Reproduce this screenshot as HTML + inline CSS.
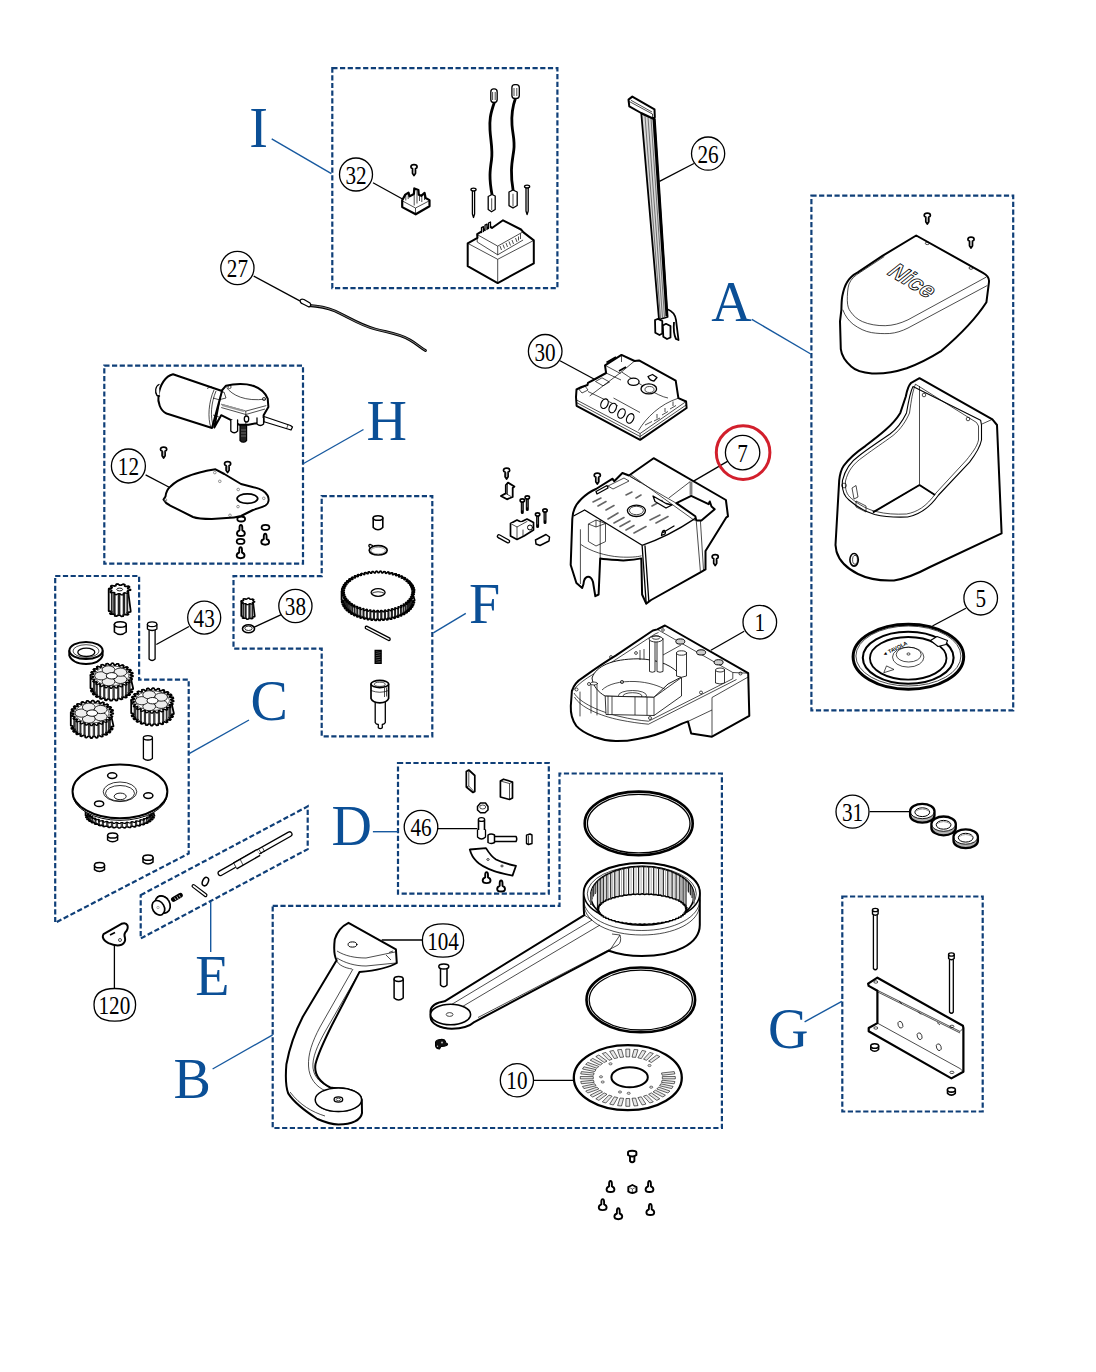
<!DOCTYPE html>
<html><head><meta charset="utf-8"><title>Parts diagram</title>
<style>
html,body{margin:0;padding:0;background:#fff;}
svg{display:block;}
.bx{fill:none;stroke:#0f3f78;stroke-width:2.2;stroke-dasharray:5.2 2.5;}
.ld{stroke:#17599f;stroke-width:1.4;fill:none;}
.L{font-family:"Liberation Serif",serif;font-size:56px;fill:#0b4f96;text-anchor:middle;}
.c{fill:#fff;stroke:#000;stroke-width:1.3;}
.n{font-family:"Liberation Serif",serif;font-size:25.5px;fill:#000;text-anchor:middle;transform-box:fill-box;transform-origin:center;transform:scaleX(0.83);}
.k{stroke:#000;stroke-width:1.3;fill:none;}
.p{fill:#fff;stroke:#000;stroke-width:2;stroke-linejoin:round;stroke-linecap:round;}
.q{fill:#fff;stroke:#000;stroke-width:1.3;stroke-linejoin:round;stroke-linecap:round;}
.t{fill:none;stroke:#000;stroke-width:0.7;}
.g{fill:none;stroke:#666;stroke-width:0.7;}
</style></head><body>
<svg width="1096" height="1372" viewBox="0 0 1096 1372">
<defs>
<path id="scr" d="M-3.1 1.9Q-3.1 -0.4 0 -0.4Q3.1 -0.4 3.1 1.9Q3.1 3.2 1.5 3.6V8.2L0 10.6L-1.5 8.2V3.6Q-3.1 3.2 -3.1 1.9Z"/>
<path id="scrl" d="M-1.4 4.2L0 1.4"/>
</defs>
<rect width="1096" height="1372" fill="#fff"/>
<g id="boxes">
<rect class="bx" x="332.3" y="68.2" width="225.1" height="219.9"/>
<rect class="bx" x="811.4" y="195.7" width="201.8" height="514.7"/>
<rect class="bx" x="104.3" y="365.7" width="198.7" height="197.9"/>
<path class="bx" d="M321.7 496.1H432.3V736.3H321.7V648.6H233.5V576.1H321.7Z"/>
<path class="bx" d="M55.2 576H139.1V679.6H188.7V853.5L55.2 922.8Z"/>
<path class="bx" d="M140.7 895.1L307.7 806.4V849.1L140.7 938.5Z"/>
<rect class="bx" x="398" y="763" width="150.8" height="130.7"/>
<path class="bx" d="M272.7 905.8H559.5V773.5H721.9V1128H272.7Z"/>
<rect class="bx" x="842.3" y="896.5" width="140.4" height="215"/>
</g>
<g id="letters">
<path class="ld" d="M271.7 138.9L331.4 173.6"/>
<path class="ld" d="M751.8 319.4L810.8 354"/>
<path class="ld" d="M303.6 463.5L363.5 429.5"/>
<path class="ld" d="M433.3 632.8L465.8 613.4"/>
<path class="ld" d="M188.7 753.9L249 720"/>
<path class="ld" d="M372.9 831.7H398"/>
<path class="ld" d="M210.7 901.7V952"/>
<path class="ld" d="M212.6 1069L272.7 1034.8"/>
<path class="ld" d="M804.6 1021.8L841.8 1001.4"/>
<text class="L" x="258.5" y="147">I</text>
<text class="L" x="731.6" y="321">A</text>
<text class="L" x="386.8" y="440">H</text>
<text class="L" x="484.5" y="623">F</text>
<text class="L" x="269.3" y="720">C</text>
<text class="L" x="351.7" y="845">D</text>
<text class="L" x="212.4" y="995">E</text>
<text class="L" x="192.3" y="1097.5">B</text>
<text class="L" x="788.3" y="1047.5">G</text>
</g>
<g id="leaders">
<path class="k" d="M373 182.7L403.4 199.5"/>
<path class="k" d="M253.7 276.1L299.8 300.9"/>
<path class="k" d="M693.9 163.5L659.5 181.3"/>
<path class="k" d="M560 360.8L594.4 379.3"/>
<path class="k" d="M727.9 461.1L693.6 481.1"/>
<path class="k" d="M145.6 474.9L169.7 487.5"/>
<path class="k" d="M189 626.5L156.3 644.5"/>
<path class="k" d="M281.3 614.6L253.2 627.7"/>
<path class="k" d="M744.2 631.2L710.9 650.2"/>
<path class="k" d="M965.9 608.2L932.4 626"/>
<path class="k" d="M869.6 811.7H910"/>
<path class="k" d="M437.9 828.7H477.4"/>
<path class="k" d="M422.4 940H381.7"/>
<path class="k" d="M114.4 944.4V988"/>
<path class="k" d="M533.7 1080.3H573.2"/>
</g>
<g id="parts">
<!-- ===== Box I ===== -->
<g id="partsI">
<!-- screw -->
<use href="#scr" x="414" y="165" fill="#fff" stroke="#000" stroke-width="1.7" stroke-linejoin="round"/><path d="M414 169.2V173" stroke="#888" stroke-width="0.8"/>
<!-- terminal block 32 -->
<path class="p" d="M402.2 200.3L405.3 194.6L408.5 192.6L409.6 196.4L413.9 194L414.3 188.4L418.4 190.1L418.8 194.8L421.3 195.8L424.6 192.9L425.6 198L429.5 200.1V206.3L415.7 214.3L402.2 207.1Z" style="stroke-width:2.2"/>
<path class="t" d="M402.5 201L415.5 208L429.3 200.8M415.5 208V214M405.8 195.2V200.5M408.2 194V199M414.2 194.6V205.5M417 191V203.5M419.5 196V201M421.8 196.5V202M424.5 194.5V200"/>
<!-- cables -->
<path d="M494.3 102.5C490 115 489.5 120 490 130S493 150 491.5 160S488.8 178 492.1 195" fill="none" stroke="#000" stroke-width="2.8"/>
<path d="M515.4 98.5C512 108 511.3 115 512 125S515 140 513.8 150S509.5 170 513.2 191" fill="none" stroke="#000" stroke-width="2.8"/>
<rect class="q" x="490.8" y="88.9" width="6.4" height="13.6" rx="3"/>
<path class="t" d="M492.6 92V100M495.2 92V100"/>
<rect class="q" x="511.9" y="84.6" width="7.4" height="13.8" rx="3"/>
<path class="t" d="M514 88V96M516.8 88V96"/>
<path class="q" d="M488.2 196.5L492 194.5L495.2 196V209.5L491.5 211.8L488.2 209.5Z"/>
<path class="t" d="M491.7 198.3V210"/>
<path class="q" d="M509 192L513 190L517.2 192V205.5L513 208L509 205.6Z"/>
<path class="t" d="M513 193.8V206.5"/>
<!-- pins -->
<path class="q" d="M472.4 190.5V214L473.5 217.5L474.6 214V190.5"/>
<ellipse class="q" cx="473.5" cy="189.6" rx="2.6" ry="1.4"/>
<path class="q" d="M526 187.5V211L527.1 214.6L528.2 211V187.5"/>
<ellipse class="q" cx="527.1" cy="186.6" rx="2.6" ry="1.4"/>
<!-- transformer -->
<path class="p" d="M467.7 243.3L477.5 237.8L477.2 234.2L490 226.4L492 228L503 220.3L521 229.5L523.5 232.4L533.8 240.4V263.4L497.7 283.1L467.7 266.2Z"/>
<path class="t" d="M467.7 243.3L497.7 259.3L533.8 240.4M497.7 259.3V283.1M477.2 234.6L497.7 246.1L523.1 231.8M477.2 234.6V242L497.7 254.8L523.1 240M497.7 246.1V255"/>
<path class="t" d="M500 246L501.5 250M503 244.6L504.5 248.5M506 243L507.5 247M509 241.5L510.5 245.5M512 240L513.5 244M515.5 238L517 242M518.5 236.5V240.5M520.5 233.5V239"/>
<path class="q" d="M481.5 232.5V227.6L483.4 226.6V231.5M485 230.5V225.2L487 224.2V229.5M488.5 228.5V223L490.5 222V227.5"/>
</g>
<!-- ===== Box H ===== -->
<g id="partsH">
<!-- wire -->
<path class="q" d="M261 415.5L290.5 425.5L292.5 427L291 430L260 420.5"/>
<path class="t" d="M288 424.5L286.5 429"/>
<!-- shaft -->
<path d="M240 424V440.5Q243.3 444 246.6 440.5V424Z" fill="#222" stroke="#000" stroke-width="1.2"/>
<path class="t" d="M241 430H246M241 433H246M241 436H246" style="stroke:#888"/>
<!-- gearbox -->
<path class="p" d="M221 391.5L226 385.7C235 383.5 246 383.5 252 385.5C259 387.5 265 392 267.7 398.7L268.4 407L263.6 415.2V422L248.5 424.7H239L232.1 420.6L221.2 415.2L214.3 427.5Z"/>
<path class="t" d="M221.2 404.2L245.8 411.1L266.3 405.6M221.2 407.5L245.8 414.5L265 409M245.8 411.1V424.5M226.5 387.5C232 395 245 402 266 399M216 393L224 392L226 398L218 400Z"/>
<path d="M222 405L244 411" stroke="#999" stroke-width="2"/>
<circle class="t" cx="229.5" cy="387" r="1.6"/>
<circle class="t" cx="264" cy="399" r="1.6"/>
<ellipse class="q" cx="246.5" cy="419" rx="2.2" ry="3"/>
<path class="q" d="M230.8 420V431Q234.2 434.5 237.6 431V420"/>
<path class="q" d="M257 418V424Q260.3 427 263.6 424V418"/>
<!-- motor cylinder -->
<path class="p" d="M173 374.2L222 391L212 428L166.5 413.5C160 410.5 157.5 402 158.5 395C160 384.5 165.5 376 173 374.2Z"/>
<path class="t" d="M214 390C208.5 402 207.5 418 211 428M216 391C211 403 210 417 213.5 426.5M207 388.5L211 386.5L214 389"/>
<path class="t" d="M213 398L220 400M213 415L219 417"/>
<path class="q" d="M159 384.5C155.5 386 154.5 392 157 395.5L159.5 396"/>
<!-- screws -->
<g class="q">
<use href="#scr" x="163.6" y="447.5" fill="#fff" stroke="#000" stroke-width="1.7" stroke-linejoin="round"/><path d="M163.6 451.7V455.5" stroke="#888" stroke-width="0.8"/>
<use href="#scr" x="227.6" y="462" fill="#fff" stroke="#000" stroke-width="1.7" stroke-linejoin="round"/><path d="M227.6 466.2V470" stroke="#888" stroke-width="0.8"/>
<ellipse cx="241.2" cy="519" rx="3.9" ry="2.5" style="stroke-width:1.8"/>
<ellipse cx="240.6" cy="541.4" rx="3.9" ry="2.5" style="stroke-width:1.8"/>
<ellipse cx="265.5" cy="527.4" rx="3.9" ry="2.5" style="stroke-width:1.8"/>
</g>
<g fill="#fff" stroke="#000" stroke-width="1.9" stroke-linejoin="round"><use href="#ps" transform="translate(-369.6 -656)"/><use href="#ps" transform="translate(-369.9 -633.8)"/><use href="#ps" transform="translate(-345.3 -647.3)"/>
</g>
<!-- gasket 12 -->
<path class="p" d="M165.5 496.5C166 492 168 488.5 170.5 486.5C174 483 180 479 188.6 476C195 473.5 202 472 208 470.5L215.5 469.3L224.3 474L241 484L253.5 487.2C260 488.5 265 491 267.6 495.5C269.5 499.5 268.5 503.5 265.5 505.5C261 508 256 508.5 252 510.5L241 516C236 517.5 231 518 226.4 518L211.7 519C203 519 197 518.5 193 517L182.3 511.6L169.7 505.3C166.5 504 164.3 501 163.5 499.5Z"/>
<ellipse class="p" cx="247.4" cy="498.6" rx="10.3" ry="4.8" style="stroke-width:1.8"/>
<g class="g"><circle cx="165.5" cy="500" r="1.3"/><circle cx="214.8" cy="472.6" r="1.3"/><circle cx="219.8" cy="481.3" r="1.3"/><circle cx="238.2" cy="489.5" r="1.3"/><circle cx="263.8" cy="498.3" r="1.3"/><circle cx="238" cy="506.6" r="1.3"/><circle cx="230" cy="515.3" r="1.3"/></g>
</g>
<!-- ===== Box C ===== -->
<g id="partsC">
<!-- bushing -->
<path class="p" d="M114.4 624.5V632Q120.3 637 126.2 632V624.5" style="stroke-width:1.6"/>
<ellipse class="p" cx="120.3" cy="624.5" rx="5.9" ry="2.8" style="stroke-width:1.6"/>
<!-- seal -->
<path class="p" d="M69.3 651V655.5Q72 663.5 86 664Q100 663.5 102.6 655.5V651"/>
<ellipse class="p" cx="86" cy="650.5" rx="16.6" ry="8.6"/>
<ellipse class="t" cx="86" cy="651" rx="13" ry="6.3"/>
<ellipse class="q" cx="86.3" cy="652.3" rx="8.5" ry="4.2"/>
<!-- pin 43 -->
<path class="q" d="M149.1 626V659Q152.1 662 155.1 659V626"/>
<path class="q" d="M147.4 624.5V629Q152.1 632 156.9 629V624.5"/>
<ellipse class="q" cx="152.1" cy="624.3" rx="4.7" ry="2.4"/>
<!-- pin lower -->
<path class="q" d="M143.4 738V758.5Q147.9 762 152.4 758.5V738"/>
<ellipse class="q" cx="147.9" cy="737.8" rx="4.5" ry="2.2"/>
<!--GEN:gearsC-->
<path d="M130.7 611 L130.6 611.9 L127.5 612.3 L127.1 612.9 L128.6 614.2 L127.5 614.9 L124.5 614.3 L123.4 614.7 L123.1 616.2 L121.4 616.4 L119.7 615.1 L118.4 615.1 L116.3 616.2 L114.7 615.9 L114.9 614.3 L113.9 613.9 L110.8 614.2 L109.9 613.5 L111.9 612.3 L111.6 611.6 L108.7 611 L108.7 589.5 L108.8 588.6 L111.9 588.2 L112.3 587.6 L110.8 586.3 L111.9 585.6 L114.9 586.2 L116 585.8 L116.3 584.3 L118 584.1 L119.7 585.4 L121 585.4 L123.1 584.3 L124.7 584.6 L124.5 586.2 L125.5 586.6 L128.6 586.3 L129.5 587 L127.5 588.2 L127.8 588.9Z" fill="#fff" stroke="#000" stroke-width="1.8" stroke-linejoin="round"/>
<path d="M127.5 590.8V612.3M127.1 591.4V612.9M124.5 592.8V614.3M123.4 593.2V614.7M119.7 593.6V615.1M118.4 593.6V615.1M114.9 592.8V614.3M113.9 592.4V613.9M111.9 590.8V612.3M111.6 590.1V611.6" fill="none" stroke="#222" stroke-width="1.4"/>
<path d="M130.7 589.5 L130.6 590.4 L127.5 590.8 L127.1 591.4 L128.6 592.7 L127.5 593.4 L124.5 592.8 L123.4 593.2 L123.1 594.7 L121.4 594.9 L119.7 593.6 L118.4 593.6 L116.3 594.7 L114.7 594.4 L114.9 592.8 L113.9 592.4 L110.8 592.7 L109.9 592 L111.9 590.8 L111.6 590.1 L108.7 589.5 L108.8 588.6 L111.9 588.2 L112.3 587.6 L110.8 586.3 L111.9 585.6 L114.9 586.2 L116 585.8 L116.3 584.3 L118 584.1 L119.7 585.4 L121 585.4 L123.1 584.3 L124.7 584.6 L124.5 586.2 L125.5 586.6 L128.6 586.3 L129.5 587 L127.5 588.2 L127.8 588.9Z" fill="#fff" stroke="#000" stroke-width="1.4" stroke-linejoin="round"/>
<ellipse cx="119.7" cy="589.5" rx="2.9" ry="1.4" fill="#fff" stroke="#000" stroke-width="0.9"/>
<path d="M133.1 688.3 L133.1 689.1 L130 689.7 L129.8 690.4 L132.4 691.5 L132 692.3 L128.7 692.4 L128.2 693 L130.2 694.5 L129.5 695.2 L126.3 694.8 L125.6 695.3 L126.9 697.1 L125.8 697.6 L123 696.8 L122 697.2 L122.5 699 L121.2 699.4 L118.8 698.2 L117.7 698.4 L117.3 700.3 L116 700.5 L114.2 698.9 L113 698.9 L111.8 700.7 L110.4 700.7 L109.4 698.9 L108.2 698.8 L106.3 700.3 L105 700 L104.8 698.2 L103.7 697.9 L101.2 699 L100 698.6 L100.6 696.8 L99.7 696.3 L96.7 697.1 L95.8 696.5 L97.3 694.8 L96.6 694.2 L93.4 694.5 L92.7 693.8 L94.9 692.4 L94.5 691.7 L91.2 691.5 L90.9 690.7 L93.6 689.7 L93.5 689 L90.5 688.3 L90.5 675.8 L90.5 675 L93.6 674.4 L93.8 673.7 L91.2 672.6 L91.6 671.8 L94.9 671.7 L95.4 671.1 L93.4 669.6 L94.1 668.9 L97.3 669.3 L98 668.8 L96.7 667 L97.8 666.5 L100.6 667.3 L101.6 666.9 L101.1 665.1 L102.4 664.7 L104.8 665.9 L105.9 665.7 L106.3 663.8 L107.6 663.6 L109.4 665.2 L110.6 665.2 L111.8 663.4 L113.2 663.4 L114.2 665.2 L115.4 665.3 L117.3 663.8 L118.6 664.1 L118.8 665.9 L119.9 666.2 L122.5 665.1 L123.6 665.5 L123 667.3 L123.9 667.8 L126.9 667 L127.8 667.6 L126.3 669.3 L127 669.9 L130.2 669.6 L130.9 670.3 L128.7 671.7 L129.1 672.4 L132.4 672.6 L132.7 673.4 L130 674.4 L130.1 675.1Z" fill="#fff" stroke="#000" stroke-width="1.8" stroke-linejoin="round"/>
<path d="M130 677.2V689.7M129.8 677.9V690.4M128.7 679.9V692.4M128.2 680.5V693M126.3 682.3V694.8M125.6 682.8V695.3M123 684.3V696.8M122 684.7V697.2M118.8 685.7V698.2M117.7 685.9V698.4M114.2 686.4V698.9M113 686.4V698.9M109.4 686.4V698.9M108.2 686.3V698.8M104.8 685.7V698.2M103.7 685.4V697.9M100.6 684.3V696.8M99.7 683.8V696.3M97.3 682.3V694.8M96.6 681.7V694.2M94.9 679.9V692.4M94.5 679.2V691.7M93.6 677.2V689.7M93.5 676.5V689" fill="none" stroke="#333" stroke-width="1.1"/>
<path d="M133.1 675.8 L133.1 676.6 L130 677.2 L129.8 677.9 L132.4 679 L132 679.8 L128.7 679.9 L128.2 680.5 L130.2 682 L129.5 682.7 L126.3 682.3 L125.6 682.8 L126.9 684.6 L125.8 685.1 L123 684.3 L122 684.7 L122.5 686.5 L121.2 686.9 L118.8 685.7 L117.7 685.9 L117.3 687.8 L116 688 L114.2 686.4 L113 686.4 L111.8 688.2 L110.4 688.2 L109.4 686.4 L108.2 686.3 L106.3 687.8 L105 687.5 L104.8 685.7 L103.7 685.4 L101.2 686.5 L100 686.1 L100.6 684.3 L99.7 683.8 L96.7 684.6 L95.8 684 L97.3 682.3 L96.6 681.7 L93.4 682 L92.7 681.3 L94.9 679.9 L94.5 679.2 L91.2 679 L90.9 678.2 L93.6 677.2 L93.5 676.5 L90.5 675.8 L90.5 675 L93.6 674.4 L93.8 673.7 L91.2 672.6 L91.6 671.8 L94.9 671.7 L95.4 671.1 L93.4 669.6 L94.1 668.9 L97.3 669.3 L98 668.8 L96.7 667 L97.8 666.5 L100.6 667.3 L101.6 666.9 L101.1 665.1 L102.4 664.7 L104.8 665.9 L105.9 665.7 L106.3 663.8 L107.6 663.6 L109.4 665.2 L110.6 665.2 L111.8 663.4 L113.2 663.4 L114.2 665.2 L115.4 665.3 L117.3 663.8 L118.6 664.1 L118.8 665.9 L119.9 666.2 L122.5 665.1 L123.6 665.5 L123 667.3 L123.9 667.8 L126.9 667 L127.8 667.6 L126.3 669.3 L127 669.9 L130.2 669.6 L130.9 670.3 L128.7 671.7 L129.1 672.4 L132.4 672.6 L132.7 673.4 L130 674.4 L130.1 675.1Z" fill="#fff" stroke="#000" stroke-width="1.4" stroke-linejoin="round"/>
<ellipse cx="111.8" cy="675.8" rx="17" ry="9.9" fill="none" stroke="#000" stroke-width="0.6"/>
<ellipse cx="120.4" cy="679.4" rx="6.4" ry="4.1" fill="#eee" stroke="#000" stroke-width="0.8"/>
<ellipse cx="108.5" cy="681.7" rx="6.4" ry="4.1" fill="#eee" stroke="#000" stroke-width="0.8"/>
<ellipse cx="101.1" cy="675.8" rx="6.4" ry="4.1" fill="#eee" stroke="#000" stroke-width="0.8"/>
<ellipse cx="108.5" cy="669.9" rx="6.4" ry="4.1" fill="#eee" stroke="#000" stroke-width="0.8"/>
<ellipse cx="120.4" cy="672.2" rx="6.4" ry="4.1" fill="#eee" stroke="#000" stroke-width="0.8"/>
<ellipse cx="111.8" cy="675.8" rx="5.5" ry="3.2" fill="#fff" stroke="#000" stroke-width="0.9"/>
<path d="M173.8 713.2 L173.8 714 L170.7 714.6 L170.5 715.3 L173.1 716.4 L172.7 717.2 L169.4 717.3 L168.9 717.9 L170.9 719.4 L170.2 720.1 L167 719.7 L166.3 720.2 L167.6 722 L166.5 722.5 L163.7 721.7 L162.7 722.1 L163.2 723.9 L161.9 724.3 L159.5 723.1 L158.4 723.3 L158 725.2 L156.7 725.4 L154.9 723.8 L153.7 723.8 L152.5 725.6 L151.1 725.6 L150.1 723.8 L148.9 723.7 L147 725.2 L145.7 724.9 L145.5 723.1 L144.4 722.8 L141.8 723.9 L140.7 723.5 L141.3 721.7 L140.4 721.2 L137.4 722 L136.5 721.4 L138 719.7 L137.3 719.1 L134.1 719.4 L133.4 718.7 L135.6 717.3 L135.2 716.6 L131.9 716.4 L131.6 715.6 L134.3 714.6 L134.2 713.9 L131.2 713.2 L131.2 700.7 L131.2 699.9 L134.3 699.3 L134.5 698.6 L131.9 697.5 L132.3 696.7 L135.6 696.6 L136.1 696 L134.1 694.5 L134.8 693.8 L138 694.2 L138.7 693.7 L137.4 691.9 L138.5 691.4 L141.3 692.2 L142.3 691.8 L141.8 690 L143.1 689.6 L145.5 690.8 L146.6 690.6 L147 688.7 L148.3 688.5 L150.1 690.1 L151.3 690.1 L152.5 688.3 L153.9 688.3 L154.9 690.1 L156.1 690.2 L158 688.7 L159.3 689 L159.5 690.8 L160.6 691.1 L163.2 690 L164.3 690.4 L163.7 692.2 L164.6 692.7 L167.6 691.9 L168.5 692.5 L167 694.2 L167.7 694.8 L170.9 694.5 L171.6 695.2 L169.4 696.6 L169.8 697.3 L173.1 697.5 L173.4 698.3 L170.7 699.3 L170.8 700Z" fill="#fff" stroke="#000" stroke-width="1.8" stroke-linejoin="round"/>
<path d="M170.7 702.1V714.6M170.5 702.8V715.3M169.4 704.8V717.3M168.9 705.4V717.9M167 707.2V719.7M166.3 707.7V720.2M163.7 709.2V721.7M162.7 709.6V722.1M159.5 710.6V723.1M158.4 710.8V723.3M154.9 711.3V723.8M153.7 711.3V723.8M150.1 711.3V723.8M148.9 711.2V723.7M145.5 710.6V723.1M144.4 710.3V722.8M141.3 709.2V721.7M140.4 708.7V721.2M138 707.2V719.7M137.3 706.6V719.1M135.6 704.8V717.3M135.2 704.1V716.6M134.3 702.1V714.6M134.2 701.4V713.9" fill="none" stroke="#333" stroke-width="1.1"/>
<path d="M173.8 700.7 L173.8 701.5 L170.7 702.1 L170.5 702.8 L173.1 703.9 L172.7 704.7 L169.4 704.8 L168.9 705.4 L170.9 706.9 L170.2 707.6 L167 707.2 L166.3 707.7 L167.6 709.5 L166.5 710 L163.7 709.2 L162.7 709.6 L163.2 711.4 L161.9 711.8 L159.5 710.6 L158.4 710.8 L158 712.7 L156.7 712.9 L154.9 711.3 L153.7 711.3 L152.5 713.1 L151.1 713.1 L150.1 711.3 L148.9 711.2 L147 712.7 L145.7 712.4 L145.5 710.6 L144.4 710.3 L141.8 711.4 L140.7 711 L141.3 709.2 L140.4 708.7 L137.4 709.5 L136.5 708.9 L138 707.2 L137.3 706.6 L134.1 706.9 L133.4 706.2 L135.6 704.8 L135.2 704.1 L131.9 703.9 L131.6 703.1 L134.3 702.1 L134.2 701.4 L131.2 700.7 L131.2 699.9 L134.3 699.3 L134.5 698.6 L131.9 697.5 L132.3 696.7 L135.6 696.6 L136.1 696 L134.1 694.5 L134.8 693.8 L138 694.2 L138.7 693.7 L137.4 691.9 L138.5 691.4 L141.3 692.2 L142.3 691.8 L141.8 690 L143.1 689.6 L145.5 690.8 L146.6 690.6 L147 688.7 L148.3 688.5 L150.1 690.1 L151.3 690.1 L152.5 688.3 L153.9 688.3 L154.9 690.1 L156.1 690.2 L158 688.7 L159.3 689 L159.5 690.8 L160.6 691.1 L163.2 690 L164.3 690.4 L163.7 692.2 L164.6 692.7 L167.6 691.9 L168.5 692.5 L167 694.2 L167.7 694.8 L170.9 694.5 L171.6 695.2 L169.4 696.6 L169.8 697.3 L173.1 697.5 L173.4 698.3 L170.7 699.3 L170.8 700Z" fill="#fff" stroke="#000" stroke-width="1.4" stroke-linejoin="round"/>
<ellipse cx="152.5" cy="700.7" rx="17" ry="9.9" fill="none" stroke="#000" stroke-width="0.6"/>
<ellipse cx="161.1" cy="704.3" rx="6.4" ry="4.1" fill="#eee" stroke="#000" stroke-width="0.8"/>
<ellipse cx="149.2" cy="706.6" rx="6.4" ry="4.1" fill="#eee" stroke="#000" stroke-width="0.8"/>
<ellipse cx="141.8" cy="700.7" rx="6.4" ry="4.1" fill="#eee" stroke="#000" stroke-width="0.8"/>
<ellipse cx="149.2" cy="694.8" rx="6.4" ry="4.1" fill="#eee" stroke="#000" stroke-width="0.8"/>
<ellipse cx="161.1" cy="697.1" rx="6.4" ry="4.1" fill="#eee" stroke="#000" stroke-width="0.8"/>
<ellipse cx="152.5" cy="700.7" rx="5.5" ry="3.2" fill="#fff" stroke="#000" stroke-width="0.9"/>
<path d="M113.4 725.6 L113.4 726.4 L110.3 727 L110.1 727.7 L112.7 728.8 L112.3 729.6 L109 729.7 L108.5 730.3 L110.5 731.8 L109.8 732.5 L106.6 732.1 L105.9 732.6 L107.2 734.4 L106.1 734.9 L103.3 734.1 L102.3 734.5 L102.8 736.3 L101.5 736.7 L99.1 735.5 L98 735.7 L97.6 737.6 L96.3 737.8 L94.5 736.2 L93.3 736.2 L92.1 738 L90.7 738 L89.7 736.2 L88.5 736.1 L86.6 737.6 L85.3 737.3 L85.1 735.5 L84 735.2 L81.5 736.3 L80.3 735.9 L80.9 734.1 L80 733.6 L77 734.4 L76.1 733.8 L77.6 732.1 L76.9 731.5 L73.7 731.8 L73 731.1 L75.2 729.7 L74.8 729 L71.5 728.8 L71.2 728 L73.9 727 L73.8 726.3 L70.8 725.6 L70.8 713.1 L70.8 712.3 L73.9 711.7 L74.1 711 L71.5 709.9 L71.9 709.1 L75.2 709 L75.7 708.4 L73.7 706.9 L74.4 706.2 L77.6 706.6 L78.3 706.1 L77 704.3 L78.1 703.8 L80.9 704.6 L81.9 704.2 L81.4 702.4 L82.7 702 L85.1 703.2 L86.2 703 L86.6 701.1 L87.9 700.9 L89.7 702.5 L90.9 702.5 L92.1 700.7 L93.5 700.7 L94.5 702.5 L95.7 702.6 L97.6 701.1 L98.9 701.4 L99.1 703.2 L100.2 703.5 L102.8 702.4 L103.9 702.8 L103.3 704.6 L104.2 705.1 L107.2 704.3 L108.1 704.9 L106.6 706.6 L107.3 707.2 L110.5 706.9 L111.2 707.6 L109 709 L109.4 709.7 L112.7 709.9 L113 710.7 L110.3 711.7 L110.4 712.4Z" fill="#fff" stroke="#000" stroke-width="1.8" stroke-linejoin="round"/>
<path d="M110.3 714.5V727M110.1 715.2V727.7M109 717.2V729.7M108.5 717.8V730.3M106.6 719.6V732.1M105.9 720.1V732.6M103.3 721.6V734.1M102.3 722V734.5M99.1 723V735.5M98 723.2V735.7M94.5 723.7V736.2M93.3 723.7V736.2M89.7 723.7V736.2M88.5 723.6V736.1M85.1 723V735.5M84 722.7V735.2M80.9 721.6V734.1M80 721.1V733.6M77.6 719.6V732.1M76.9 719V731.5M75.2 717.2V729.7M74.8 716.5V729M73.9 714.5V727M73.8 713.8V726.3" fill="none" stroke="#333" stroke-width="1.1"/>
<path d="M113.4 713.1 L113.4 713.9 L110.3 714.5 L110.1 715.2 L112.7 716.3 L112.3 717.1 L109 717.2 L108.5 717.8 L110.5 719.3 L109.8 720 L106.6 719.6 L105.9 720.1 L107.2 721.9 L106.1 722.4 L103.3 721.6 L102.3 722 L102.8 723.8 L101.5 724.2 L99.1 723 L98 723.2 L97.6 725.1 L96.3 725.3 L94.5 723.7 L93.3 723.7 L92.1 725.5 L90.7 725.5 L89.7 723.7 L88.5 723.6 L86.6 725.1 L85.3 724.8 L85.1 723 L84 722.7 L81.5 723.8 L80.3 723.4 L80.9 721.6 L80 721.1 L77 721.9 L76.1 721.3 L77.6 719.6 L76.9 719 L73.7 719.3 L73 718.6 L75.2 717.2 L74.8 716.5 L71.5 716.3 L71.2 715.5 L73.9 714.5 L73.8 713.8 L70.8 713.1 L70.8 712.3 L73.9 711.7 L74.1 711 L71.5 709.9 L71.9 709.1 L75.2 709 L75.7 708.4 L73.7 706.9 L74.4 706.2 L77.6 706.6 L78.3 706.1 L77 704.3 L78.1 703.8 L80.9 704.6 L81.9 704.2 L81.4 702.4 L82.7 702 L85.1 703.2 L86.2 703 L86.6 701.1 L87.9 700.9 L89.7 702.5 L90.9 702.5 L92.1 700.7 L93.5 700.7 L94.5 702.5 L95.7 702.6 L97.6 701.1 L98.9 701.4 L99.1 703.2 L100.2 703.5 L102.8 702.4 L103.9 702.8 L103.3 704.6 L104.2 705.1 L107.2 704.3 L108.1 704.9 L106.6 706.6 L107.3 707.2 L110.5 706.9 L111.2 707.6 L109 709 L109.4 709.7 L112.7 709.9 L113 710.7 L110.3 711.7 L110.4 712.4Z" fill="#fff" stroke="#000" stroke-width="1.4" stroke-linejoin="round"/>
<ellipse cx="92.1" cy="713.1" rx="17" ry="9.9" fill="none" stroke="#000" stroke-width="0.6"/>
<ellipse cx="100.7" cy="716.7" rx="6.4" ry="4.1" fill="#eee" stroke="#000" stroke-width="0.8"/>
<ellipse cx="88.8" cy="719" rx="6.4" ry="4.1" fill="#eee" stroke="#000" stroke-width="0.8"/>
<ellipse cx="81.4" cy="713.1" rx="6.4" ry="4.1" fill="#eee" stroke="#000" stroke-width="0.8"/>
<ellipse cx="88.8" cy="707.2" rx="6.4" ry="4.1" fill="#eee" stroke="#000" stroke-width="0.8"/>
<ellipse cx="100.7" cy="709.5" rx="6.4" ry="4.1" fill="#eee" stroke="#000" stroke-width="0.8"/>
<ellipse cx="92.1" cy="713.1" rx="5.5" ry="3.2" fill="#fff" stroke="#000" stroke-width="0.9"/>
<path d="M154.5 815.5 L154.5 816 L151.6 816.4 L151.5 816.9 L154.1 817.5 L153.8 817.9 L150.9 818.2 L150.5 818.6 L152.8 819.4 L152.4 819.8 L149.3 819.9 L148.8 820.3 L150.7 821.2 L150.1 821.6 L147.1 821.5 L146.4 821.9 L147.9 822.8 L147.1 823.2 L144.1 823 L143.3 823.3 L144.4 824.3 L143.4 824.7 L140.6 824.2 L139.7 824.5 L140.3 825.6 L139.2 825.9 L136.6 825.3 L135.5 825.5 L135.7 826.6 L134.4 826.9 L132.1 826.1 L131 826.3 L130.7 827.4 L129.4 827.5 L127.4 826.7 L126.2 826.8 L125.4 827.8 L124.1 827.9 L122.5 827 L121.2 827 L120 828 L118.6 828 L117.5 827 L116.3 826.9 L114.6 827.8 L113.3 827.8 L112.6 826.7 L111.4 826.6 L109.3 827.4 L108.1 827.2 L107.9 826.1 L106.7 825.9 L104.3 826.6 L103.1 826.4 L103.4 825.3 L102.4 825.1 L99.7 825.6 L98.6 825.3 L99.4 824.2 L98.5 823.9 L95.6 824.3 L94.7 824 L95.9 823 L95.1 822.6 L92.1 822.8 L91.3 822.4 L92.9 821.5 L92.3 821.1 L89.3 821.2 L88.7 820.7 L90.7 819.9 L90.2 819.5 L87.2 819.4 L86.8 818.9 L89.1 818.2 L88.9 817.7 L85.9 817.5 L85.7 817 L88.4 816.4 L88.3 816 L85.5 815.5 L85.5 811 L85.5 810.5 L88.4 810.1 L88.5 809.6 L85.9 809 L86.2 808.6 L89.1 808.3 L89.5 807.9 L87.2 807.1 L87.6 806.7 L90.7 806.6 L91.2 806.2 L89.3 805.3 L89.9 804.9 L92.9 805 L93.6 804.6 L92.1 803.7 L92.9 803.3 L95.9 803.5 L96.7 803.2 L95.6 802.2 L96.6 801.8 L99.4 802.3 L100.3 802 L99.7 800.9 L100.8 800.6 L103.4 801.2 L104.5 801 L104.3 799.9 L105.6 799.6 L107.9 800.4 L109 800.2 L109.3 799.1 L110.6 799 L112.6 799.8 L113.8 799.7 L114.6 798.7 L115.9 798.6 L117.5 799.5 L118.8 799.5 L120 798.5 L121.4 798.5 L122.5 799.5 L123.7 799.6 L125.4 798.7 L126.7 798.7 L127.4 799.8 L128.6 799.9 L130.7 799.1 L131.9 799.3 L132.1 800.4 L133.3 800.6 L135.7 799.9 L136.9 800.1 L136.6 801.2 L137.6 801.4 L140.3 800.9 L141.4 801.2 L140.6 802.3 L141.5 802.6 L144.4 802.2 L145.3 802.5 L144.1 803.5 L144.9 803.9 L147.9 803.7 L148.7 804.1 L147.1 805 L147.7 805.4 L150.7 805.3 L151.3 805.8 L149.3 806.6 L149.8 807 L152.8 807.1 L153.2 807.6 L150.9 808.3 L151.1 808.8 L154.1 809 L154.3 809.5 L151.6 810.1 L151.7 810.5Z" fill="#fff" stroke="#000" stroke-width="1.6" stroke-linejoin="round"/>
<path d="M151.6 811.9V816.4M151.5 812.4V816.9M150.9 813.7V818.2M150.5 814.1V818.6M149.3 815.4V819.9M148.8 815.8V820.3M147.1 817V821.5M146.4 817.4V821.9M144.1 818.5V823M143.3 818.8V823.3M140.6 819.7V824.2M139.7 820V824.5M136.6 820.8V825.3M135.5 821V825.5M132.1 821.6V826.1M131 821.8V826.3M127.4 822.2V826.7M126.2 822.3V826.8M122.5 822.5V827M121.2 822.5V827M117.5 822.5V827M116.3 822.4V826.9M112.6 822.2V826.7M111.4 822.1V826.6M107.9 821.6V826.1M106.7 821.4V825.9M103.4 820.8V825.3M102.4 820.6V825.1M99.4 819.7V824.2M98.5 819.4V823.9M95.9 818.5V823M95.1 818.1V822.6M92.9 817V821.5M92.3 816.6V821.1M90.7 815.4V819.9M90.2 815V819.5M89.1 813.7V818.2M88.9 813.2V817.7M88.4 811.9V816.4" fill="none" stroke="#333" stroke-width="1.1"/>
<path d="M154.5 811 L154.5 811.5 L151.6 811.9 L151.5 812.4 L154.1 813 L153.8 813.4 L150.9 813.7 L150.5 814.1 L152.8 814.9 L152.4 815.3 L149.3 815.4 L148.8 815.8 L150.7 816.7 L150.1 817.1 L147.1 817 L146.4 817.4 L147.9 818.3 L147.1 818.7 L144.1 818.5 L143.3 818.8 L144.4 819.8 L143.4 820.2 L140.6 819.7 L139.7 820 L140.3 821.1 L139.2 821.4 L136.6 820.8 L135.5 821 L135.7 822.1 L134.4 822.4 L132.1 821.6 L131 821.8 L130.7 822.9 L129.4 823 L127.4 822.2 L126.2 822.3 L125.4 823.3 L124.1 823.4 L122.5 822.5 L121.2 822.5 L120 823.5 L118.6 823.5 L117.5 822.5 L116.3 822.4 L114.6 823.3 L113.3 823.3 L112.6 822.2 L111.4 822.1 L109.3 822.9 L108.1 822.7 L107.9 821.6 L106.7 821.4 L104.3 822.1 L103.1 821.9 L103.4 820.8 L102.4 820.6 L99.7 821.1 L98.6 820.8 L99.4 819.7 L98.5 819.4 L95.6 819.8 L94.7 819.5 L95.9 818.5 L95.1 818.1 L92.1 818.3 L91.3 817.9 L92.9 817 L92.3 816.6 L89.3 816.7 L88.7 816.2 L90.7 815.4 L90.2 815 L87.2 814.9 L86.8 814.4 L89.1 813.7 L88.9 813.2 L85.9 813 L85.7 812.5 L88.4 811.9 L88.3 811.5 L85.5 811 L85.5 810.5 L88.4 810.1 L88.5 809.6 L85.9 809 L86.2 808.6 L89.1 808.3 L89.5 807.9 L87.2 807.1 L87.6 806.7 L90.7 806.6 L91.2 806.2 L89.3 805.3 L89.9 804.9 L92.9 805 L93.6 804.6 L92.1 803.7 L92.9 803.3 L95.9 803.5 L96.7 803.2 L95.6 802.2 L96.6 801.8 L99.4 802.3 L100.3 802 L99.7 800.9 L100.8 800.6 L103.4 801.2 L104.5 801 L104.3 799.9 L105.6 799.6 L107.9 800.4 L109 800.2 L109.3 799.1 L110.6 799 L112.6 799.8 L113.8 799.7 L114.6 798.7 L115.9 798.6 L117.5 799.5 L118.8 799.5 L120 798.5 L121.4 798.5 L122.5 799.5 L123.7 799.6 L125.4 798.7 L126.7 798.7 L127.4 799.8 L128.6 799.9 L130.7 799.1 L131.9 799.3 L132.1 800.4 L133.3 800.6 L135.7 799.9 L136.9 800.1 L136.6 801.2 L137.6 801.4 L140.3 800.9 L141.4 801.2 L140.6 802.3 L141.5 802.6 L144.4 802.2 L145.3 802.5 L144.1 803.5 L144.9 803.9 L147.9 803.7 L148.7 804.1 L147.1 805 L147.7 805.4 L150.7 805.3 L151.3 805.8 L149.3 806.6 L149.8 807 L152.8 807.1 L153.2 807.6 L150.9 808.3 L151.1 808.8 L154.1 809 L154.3 809.5 L151.6 810.1 L151.7 810.5Z" fill="#fff" stroke="#000" stroke-width="1.2" stroke-linejoin="round"/>
<path d="M72.5 791.4A47.4 26.9 0 0 0 167.4 791.4V793.4A47.4 26.9 0 0 1 72.5 793.4Z" fill="#fff" stroke="#000" stroke-width="1"/>
<ellipse cx="119.95" cy="791.4" rx="47.4" ry="26.9" fill="#fff" stroke="#000" stroke-width="2"/>
<ellipse cx="120" cy="791.8" rx="16.8" ry="9.8" fill="none" stroke="#000" stroke-width="0.8"/>
<ellipse cx="120" cy="793.3" rx="14.5" ry="7.8" fill="none" stroke="#000" stroke-width="0.8"/>
<ellipse cx="120.2" cy="796.4" rx="6" ry="3.3" fill="#fff" stroke="#000" stroke-width="0.9"/>
<ellipse cx="112.2" cy="775.6" rx="4.6" ry="2.8" fill="#fff" stroke="#000" stroke-width="1.5"/>
<ellipse cx="148.3" cy="795.6" rx="4.6" ry="2.8" fill="#fff" stroke="#000" stroke-width="1.5"/>
<ellipse cx="99.1" cy="803.7" rx="4.6" ry="2.8" fill="#fff" stroke="#000" stroke-width="1.5"/>
<!--/GEN:gearsC-->
<!-- small bushings -->
<g>
<path class="p" d="M107.6 835.5V840Q112.6 843.5 117.6 840V835.5" style="stroke-width:1.5"/><ellipse class="p" cx="112.6" cy="835.5" rx="5" ry="2.6" style="stroke-width:1.5"/>
<path class="p" d="M143 857.7V862.2Q148 865.7 153 862.2V857.7" style="stroke-width:1.5"/><ellipse class="p" cx="148" cy="857.7" rx="5" ry="2.6" style="stroke-width:1.5"/>
<path class="p" d="M94.5 865.2V869.7Q99.5 873.2 104.5 869.7V865.2" style="stroke-width:1.5"/><ellipse class="p" cx="99.5" cy="865.2" rx="5" ry="2.6" style="stroke-width:1.5"/>
</g>
</g>
<!-- ===== Box F ===== -->
<g id="partsF">
<path class="q" d="M373.2 518V527.5Q378 532 382.8 527.5V518" style="stroke-width:1.6"/>
<ellipse class="q" cx="378" cy="518" rx="4.8" ry="2.3" style="stroke-width:1.6"/>
<ellipse cx="378.2" cy="550.3" rx="9" ry="4.7" fill="#fff" stroke="#000" stroke-width="1.7"/>
<ellipse cx="378.2" cy="550.6" rx="7.2" ry="3.3" fill="#fff" stroke="#777" stroke-width="0.7"/>
<path class="q" d="M369.5 547Q368 545 370 544.3L372.5 545.5" style="stroke-width:1.3"/>
<!--GEN:gearF-->
<path d="M414.6 600.1 L414.6 600.6 L411.8 601.1 L411.8 601.6 L414.4 602.3 L414.3 602.8 L411.4 603.1 L411.3 603.6 L413.7 604.5 L413.5 605 L410.6 605.1 L410.4 605.6 L412.7 606.6 L412.4 607.1 L409.5 607.1 L409.1 607.5 L411.2 608.6 L410.8 609.1 L407.9 608.9 L407.5 609.3 L409.4 610.6 L408.9 611 L406 610.6 L405.5 611.1 L407.2 612.4 L406.5 612.8 L403.8 612.3 L403.2 612.6 L404.6 614.1 L403.9 614.5 L401.3 613.7 L400.6 614.1 L401.7 615.6 L401 615.9 L398.5 615 L397.8 615.4 L398.6 616.9 L397.8 617.2 L395.5 616.2 L394.7 616.4 L395.2 618 L394.3 618.3 L392.3 617.1 L391.4 617.3 L391.6 619 L390.7 619.2 L388.9 617.9 L388 618.1 L387.9 619.7 L386.9 619.8 L385.4 618.4 L384.5 618.5 L384 620.1 L383 620.2 L381.8 618.8 L380.8 618.8 L380.1 620.4 L379.1 620.4 L378.1 618.9 L377.2 618.9 L376.1 620.4 L375.1 620.3 L374.4 618.8 L373.5 618.7 L372.2 620.1 L371.2 620 L370.8 618.4 L370 618.3 L368.3 619.7 L367.4 619.5 L367.3 617.9 L366.5 617.7 L364.6 619 L363.7 618.7 L363.9 617.1 L363.1 616.9 L361 618 L360.1 617.8 L360.7 616.2 L359.9 615.9 L357.6 616.9 L356.8 616.6 L357.7 615 L356.9 614.7 L354.5 615.6 L353.7 615.2 L354.9 613.7 L354.2 613.4 L351.6 614.1 L350.9 613.7 L352.4 612.3 L351.8 611.9 L349 612.4 L348.5 611.9 L350.2 610.6 L349.7 610.2 L346.8 610.6 L346.3 610.1 L348.3 608.9 L347.9 608.4 L345 608.6 L344.6 608.1 L346.7 607.1 L346.4 606.6 L343.5 606.6 L343.2 606.1 L345.6 605.1 L345.3 604.6 L342.5 604.5 L342.3 603.9 L344.8 603.1 L344.6 602.6 L341.8 602.3 L341.7 601.7 L344.4 601.1 L344.3 600.6 L341.6 600.1 L341.6 591.7 L341.6 591.2 L344.4 590.7 L344.4 590.2 L341.8 589.5 L341.9 589 L344.8 588.7 L344.9 588.2 L342.5 587.3 L342.7 586.8 L345.6 586.7 L345.8 586.2 L343.5 585.2 L343.8 584.7 L346.7 584.7 L347.1 584.3 L345 583.2 L345.4 582.7 L348.3 582.9 L348.7 582.5 L346.8 581.2 L347.3 580.8 L350.2 581.2 L350.7 580.7 L349 579.4 L349.7 579 L352.4 579.5 L353 579.2 L351.6 577.7 L352.3 577.3 L354.9 578.1 L355.6 577.7 L354.5 576.2 L355.2 575.9 L357.7 576.8 L358.4 576.4 L357.6 574.9 L358.4 574.6 L360.7 575.6 L361.5 575.4 L361 573.8 L361.9 573.5 L363.9 574.7 L364.8 574.5 L364.6 572.8 L365.5 572.6 L367.3 573.9 L368.2 573.7 L368.3 572.1 L369.3 572 L370.8 573.4 L371.7 573.3 L372.2 571.7 L373.2 571.6 L374.4 573 L375.4 573 L376.1 571.4 L377.1 571.4 L378.1 572.9 L379 572.9 L380.1 571.4 L381.1 571.5 L381.8 573 L382.7 573.1 L384 571.7 L385 571.8 L385.4 573.4 L386.2 573.5 L387.9 572.1 L388.8 572.3 L388.9 573.9 L389.7 574.1 L391.6 572.8 L392.5 573.1 L392.3 574.7 L393.1 574.9 L395.2 573.8 L396.1 574 L395.5 575.6 L396.3 575.9 L398.6 574.9 L399.4 575.2 L398.5 576.8 L399.3 577.1 L401.7 576.2 L402.5 576.6 L401.3 578.1 L402 578.4 L404.6 577.7 L405.3 578.1 L403.8 579.5 L404.4 579.9 L407.2 579.4 L407.7 579.9 L406 581.2 L406.5 581.6 L409.4 581.2 L409.9 581.7 L407.9 582.9 L408.3 583.4 L411.2 583.2 L411.6 583.7 L409.5 584.7 L409.8 585.2 L412.7 585.2 L413 585.7 L410.6 586.7 L410.9 587.2 L413.7 587.3 L413.9 587.9 L411.4 588.7 L411.6 589.2 L414.4 589.5 L414.5 590.1 L411.8 590.7 L411.9 591.2Z" fill="#fff" stroke="#000" stroke-width="1.8" stroke-linejoin="round"/>
<path d="M411.8 592.7V601.1M411.8 593.2V601.6M411.4 594.7V603.1M411.3 595.2V603.6M410.6 596.7V605.1M410.4 597.2V605.6M409.5 598.7V607.1M409.1 599.1V607.5M407.9 600.5V608.9M407.5 600.9V609.3M406 602.2V610.6M405.5 602.7V611.1M403.8 603.9V612.3M403.2 604.2V612.6M401.3 605.3V613.7M400.6 605.7V614.1M398.5 606.6V615M397.8 607V615.4M395.5 607.8V616.2M394.7 608V616.4M392.3 608.7V617.1M391.4 608.9V617.3M388.9 609.5V617.9M388 609.7V618.1M385.4 610V618.4M384.5 610.1V618.5M381.8 610.4V618.8M380.8 610.4V618.8M378.1 610.5V618.9M377.2 610.5V618.9M374.4 610.4V618.8M373.5 610.3V618.7M370.8 610V618.4M370 609.9V618.3M367.3 609.5V617.9M366.5 609.3V617.7M363.9 608.7V617.1M363.1 608.5V616.9M360.7 607.8V616.2M359.9 607.5V615.9M357.7 606.6V615M356.9 606.3V614.7M354.9 605.3V613.7M354.2 605V613.4M352.4 603.9V612.3M351.8 603.5V611.9M350.2 602.2V610.6M349.7 601.8V610.2M348.3 600.5V608.9M347.9 600V608.4M346.7 598.7V607.1M346.4 598.2V606.6M345.6 596.7V605.1M345.3 596.2V604.6M344.8 594.7V603.1M344.6 594.2V602.6M344.4 592.7V601.1" fill="none" stroke="#222" stroke-width="1.2"/>
<path d="M414.6 591.7 L414.6 592.2 L411.8 592.7 L411.8 593.2 L414.4 593.9 L414.3 594.4 L411.4 594.7 L411.3 595.2 L413.7 596.1 L413.5 596.6 L410.6 596.7 L410.4 597.2 L412.7 598.2 L412.4 598.7 L409.5 598.7 L409.1 599.1 L411.2 600.2 L410.8 600.7 L407.9 600.5 L407.5 600.9 L409.4 602.2 L408.9 602.6 L406 602.2 L405.5 602.7 L407.2 604 L406.5 604.4 L403.8 603.9 L403.2 604.2 L404.6 605.7 L403.9 606.1 L401.3 605.3 L400.6 605.7 L401.7 607.2 L401 607.5 L398.5 606.6 L397.8 607 L398.6 608.5 L397.8 608.8 L395.5 607.8 L394.7 608 L395.2 609.6 L394.3 609.9 L392.3 608.7 L391.4 608.9 L391.6 610.6 L390.7 610.8 L388.9 609.5 L388 609.7 L387.9 611.3 L386.9 611.4 L385.4 610 L384.5 610.1 L384 611.7 L383 611.8 L381.8 610.4 L380.8 610.4 L380.1 612 L379.1 612 L378.1 610.5 L377.2 610.5 L376.1 612 L375.1 611.9 L374.4 610.4 L373.5 610.3 L372.2 611.7 L371.2 611.6 L370.8 610 L370 609.9 L368.3 611.3 L367.4 611.1 L367.3 609.5 L366.5 609.3 L364.6 610.6 L363.7 610.3 L363.9 608.7 L363.1 608.5 L361 609.6 L360.1 609.4 L360.7 607.8 L359.9 607.5 L357.6 608.5 L356.8 608.2 L357.7 606.6 L356.9 606.3 L354.5 607.2 L353.7 606.8 L354.9 605.3 L354.2 605 L351.6 605.7 L350.9 605.3 L352.4 603.9 L351.8 603.5 L349 604 L348.5 603.5 L350.2 602.2 L349.7 601.8 L346.8 602.2 L346.3 601.7 L348.3 600.5 L347.9 600 L345 600.2 L344.6 599.7 L346.7 598.7 L346.4 598.2 L343.5 598.2 L343.2 597.7 L345.6 596.7 L345.3 596.2 L342.5 596.1 L342.3 595.5 L344.8 594.7 L344.6 594.2 L341.8 593.9 L341.7 593.3 L344.4 592.7 L344.3 592.2 L341.6 591.7 L341.6 591.2 L344.4 590.7 L344.4 590.2 L341.8 589.5 L341.9 589 L344.8 588.7 L344.9 588.2 L342.5 587.3 L342.7 586.8 L345.6 586.7 L345.8 586.2 L343.5 585.2 L343.8 584.7 L346.7 584.7 L347.1 584.3 L345 583.2 L345.4 582.7 L348.3 582.9 L348.7 582.5 L346.8 581.2 L347.3 580.8 L350.2 581.2 L350.7 580.7 L349 579.4 L349.7 579 L352.4 579.5 L353 579.2 L351.6 577.7 L352.3 577.3 L354.9 578.1 L355.6 577.7 L354.5 576.2 L355.2 575.9 L357.7 576.8 L358.4 576.4 L357.6 574.9 L358.4 574.6 L360.7 575.6 L361.5 575.4 L361 573.8 L361.9 573.5 L363.9 574.7 L364.8 574.5 L364.6 572.8 L365.5 572.6 L367.3 573.9 L368.2 573.7 L368.3 572.1 L369.3 572 L370.8 573.4 L371.7 573.3 L372.2 571.7 L373.2 571.6 L374.4 573 L375.4 573 L376.1 571.4 L377.1 571.4 L378.1 572.9 L379 572.9 L380.1 571.4 L381.1 571.5 L381.8 573 L382.7 573.1 L384 571.7 L385 571.8 L385.4 573.4 L386.2 573.5 L387.9 572.1 L388.8 572.3 L388.9 573.9 L389.7 574.1 L391.6 572.8 L392.5 573.1 L392.3 574.7 L393.1 574.9 L395.2 573.8 L396.1 574 L395.5 575.6 L396.3 575.9 L398.6 574.9 L399.4 575.2 L398.5 576.8 L399.3 577.1 L401.7 576.2 L402.5 576.6 L401.3 578.1 L402 578.4 L404.6 577.7 L405.3 578.1 L403.8 579.5 L404.4 579.9 L407.2 579.4 L407.7 579.9 L406 581.2 L406.5 581.6 L409.4 581.2 L409.9 581.7 L407.9 582.9 L408.3 583.4 L411.2 583.2 L411.6 583.7 L409.5 584.7 L409.8 585.2 L412.7 585.2 L413 585.7 L410.6 586.7 L410.9 587.2 L413.7 587.3 L413.9 587.9 L411.4 588.7 L411.6 589.2 L414.4 589.5 L414.5 590.1 L411.8 590.7 L411.9 591.2Z" fill="#fff" stroke="#000" stroke-width="1.4" stroke-linejoin="round"/>
<ellipse cx="378.1" cy="592.5" rx="7" ry="3.8" fill="#fff" stroke="#000" stroke-width="1.3"/><path d="M371.5 593.5Q378 590 384.8 593.5" fill="none" stroke="#000" stroke-width="0.8"/>
<!--/GEN:gearF-->
<path class="q" d="M366.7 626.2L389.9 638.2Q390.8 640.6 388.6 640.5L365.5 628.5Q364.8 626 366.7 626.2Z"/>
<path d="M375.2 650.5H381.1V663.3H375.2Z" fill="#555" stroke="#000" stroke-width="1.4"/>
<path d="M375.2 652.5L381.1 651.5M375.2 654.7L381.1 653.7M375.2 656.9L381.1 655.9M375.2 659.1L381.1 658.1M375.2 661.3L381.1 660.3" stroke="#000" stroke-width="1.2"/>
<!-- shaft -->
<path class="q" d="M375.2 701V722.5Q376 724.3 378.3 724.5V727.8Q380.3 729.5 382.3 727.8V724.5Q384.8 724 385.3 722.5V701"/>
<path class="p" d="M371 684V698.5Q372.5 702.5 379.8 702.8Q387 702.5 388.6 698.5V684" style="stroke-width:1.7"/>
<ellipse class="p" cx="379.8" cy="684" rx="8.8" ry="3.6" style="stroke-width:1.7"/>
<ellipse class="t" cx="379.8" cy="684.3" rx="5.4" ry="2.1"/>
<path class="t" d="M371 690.5Q379.8 694 388.6 690.5M384.5 688V697M386.5 687.5V696.5"/>
<!-- 38 pinion + washer -->
<!--GEN:pin38-->
<path d="M254.8 616 L254.7 616.6 L252.7 616.9 L252.2 617.3 L252.8 618.3 L251.8 618.7 L250 618.2 L249 618.4 L248 619.2 L246.7 619.1 L246 618.2 L245.2 618 L243.2 618.3 L242.3 617.8 L243.3 616.9 L243 616.5 L241.2 616 L241.2 601.5 L241.3 600.9 L243.3 600.6 L243.8 600.2 L243.2 599.2 L244.2 598.8 L246 599.3 L247 599.1 L248 598.3 L249.3 598.4 L250 599.3 L250.8 599.5 L252.8 599.2 L253.7 599.7 L252.7 600.6 L253 601Z" fill="#fff" stroke="#000" stroke-width="1.6" stroke-linejoin="round"/>
<path d="M252.7 602.4V616.9M252.2 602.8V617.3M250 603.7V618.2M249 603.9V618.4M246 603.7V618.2M245.2 603.5V618M243.3 602.4V616.9M243 602V616.5" fill="none" stroke="#222" stroke-width="1.3"/>
<path d="M254.8 601.5 L254.7 602.1 L252.7 602.4 L252.2 602.8 L252.8 603.8 L251.8 604.2 L250 603.7 L249 603.9 L248 604.7 L246.7 604.6 L246 603.7 L245.2 603.5 L243.2 603.8 L242.3 603.3 L243.3 602.4 L243 602 L241.2 601.5 L241.3 600.9 L243.3 600.6 L243.8 600.2 L243.2 599.2 L244.2 598.8 L246 599.3 L247 599.1 L248 598.3 L249.3 598.4 L250 599.3 L250.8 599.5 L252.8 599.2 L253.7 599.7 L252.7 600.6 L253 601Z" fill="#fff" stroke="#000" stroke-width="1.2" stroke-linejoin="round"/>
<!--/GEN:pin38-->
<ellipse cx="248.5" cy="628.8" rx="6" ry="4" fill="#fff" stroke="#000" stroke-width="1.6"/>
<ellipse cx="248.5" cy="628.3" rx="3.7" ry="2.2" fill="#fff" stroke="#000" stroke-width="0.8"/>
</g>
<!-- ===== Box E ===== -->
<g id="partsE">
<path d="M220.5 873.2L289.6 834.2" stroke="#000" stroke-width="6" stroke-linecap="round"/>
<path d="M220.5 873.2L289.6 834.2" stroke="#fff" stroke-width="3.4" stroke-linecap="round"/>
<path d="M235 866L258.5 852.5" stroke="#000" stroke-width="8" stroke-linecap="butt"/>
<path d="M235 866L258.5 852.5" stroke="#fff" stroke-width="5.2" stroke-linecap="butt"/>
<path class="t" d="M233.5 862.5L236.8 868.6M240 859L243 865M259 849.5L261.5 854M262.5 847.5L264.8 852"/>
<ellipse cx="205.4" cy="881.6" rx="2.8" ry="4.4" transform="rotate(25 205.4 881.6)" fill="#fff" stroke="#000" stroke-width="1.5"/>
<path d="M193.5 886L205.5 895.2" stroke="#000" stroke-width="4" stroke-linecap="round"/>
<path d="M193.5 886L205.5 895.2" stroke="#fff" stroke-width="1.6" stroke-linecap="round"/>
<path d="M173.5 899.3L180.3 895.3" stroke="#000" stroke-width="5" stroke-linecap="round"/>
<path d="M174.5 897.6L176 900.2M176.8 896.3L178.3 898.9M179 895L180.4 897.4" stroke="#fff" stroke-width="0.7"/>
<!-- knob -->
<ellipse cx="162.6" cy="904.5" rx="7.2" ry="9" transform="rotate(-30 162.6 904.5)" fill="#fff" stroke="#000" stroke-width="1.7"/>
<path d="M157 897Q163 894 168 899" fill="none" stroke="#000" stroke-width="1.2"/>
<ellipse cx="158.4" cy="907.8" rx="5.8" ry="7.7" transform="rotate(-30 158.4 907.8)" fill="#fff" stroke="#000" stroke-width="1.7"/>
<circle cx="158" cy="907.5" r="1.2" fill="none" stroke="#777" stroke-width="0.6"/>
</g>
<!-- 120 lever -->
<path class="p" d="M103.5 934.2L121.5 923.8Q126 922 127.5 925.5Q128.6 929 125.2 932.5Q123.8 934.5 125 938Q126 942.5 121.5 944.8Q116 946.5 108.5 943.2Q103.5 940.5 102.8 937Q102.8 935.3 103.5 934.2Z"/>
<path d="M110 935L115 932.5" stroke="#000" stroke-width="1.6"/>
<circle cx="120" cy="940" r="1.5" fill="none" stroke="#000" stroke-width="0.7"/>
<!-- ===== board 30 ===== -->
<g id="p30">
<path class="p" d="M576 397L576.5 389.5L581 387.2L587.5 385L588 382.8L595.2 379L606.1 373L605 365.3L621.5 354.9L634.6 361L639 360.4L675.7 380.7L678.4 398.2L686.1 401.5L686.6 408L640.1 439.8L576.6 405.8Z"/>
<path class="t" d="M576.6 402.6L640.1 436.5L686.6 404.7M576.6 400L640.1 433.5L686.1 401.5M640.1 433.5V439.8"/>
<path class="t" d="M588 391.5L618 406M589.7 396L621.5 371.9L634.6 361M606.1 373L621 380M605 365.3L620.5 373.5M621.5 354.9V362M638.5 430.5C646 418 660 404 678.4 398.2M621.5 371.9C640 384 657 396 668 398M613.5 398L640 412.5"/>
<path class="t" d="M595.5 381.5L602 377.8L609.5 382L603 385.8Z"/>
<path d="M606.5 362.5L616 357M619 371L626 367" stroke="#000" stroke-width="1.8"/>
<ellipse class="q" cx="633.5" cy="381.8" rx="5.6" ry="3.6"/>
<ellipse class="q" cx="648.8" cy="388.9" rx="7.8" ry="5"/>
<ellipse class="t" cx="649.5" cy="389.5" rx="4.5" ry="3"/>
<path class="q" d="M648 376.5L652.5 374.5L657 377.5L654 381Q650 381 648 376.5Z"/>
<g class="q" style="stroke-width:1.2">
<ellipse cx="604.5" cy="403.7" rx="3.4" ry="5" transform="rotate(25 604.5 403.7)"/>
<ellipse cx="612.7" cy="408" rx="3.4" ry="5" transform="rotate(25 612.7 408)"/>
<ellipse cx="621.5" cy="413.5" rx="3.4" ry="5" transform="rotate(25 621.5 413.5)"/>
<ellipse cx="630.2" cy="418.4" rx="3.4" ry="5" transform="rotate(25 630.2 418.4)"/>
</g>
<path class="t" d="M654 421L660 418M657 418.5V414M662 415L668 411.5M665 412V408M670 409L676 405.5M673 406V401.5M645 425L652 421.5"/>
<path class="t" d="M579 389.5L585 386L588 390L582 393Z"/>
</g>
<!-- ===== part 7 ===== -->
<g id="p7">
<path class="p" d="M572.3 519C572.5 511 576 504 581.3 499C586 494.5 591 491 596 489L612.6 478.7L614.2 481.2L622.4 473L629 475.5L653.6 458.2L725.9 500L728 516.3L726.4 517.3L705.5 551V569.4L700.4 572.4L651.1 600L646.2 603.6L642.1 594.5L641.3 558.4C630 561 620 560.5 617.5 560C610 559.5 604 559 600.2 558.4L598.6 594.5L595.3 596.2L593 582Q591 576 587 577Q584 578 583.5 584L582.2 588L576.4 583L570.7 565Z"/>
<path class="q" d="M574 515.7L584.6 510L642.1 545.3C655 541 675 532 695.3 518.4M642.1 545.3L646.2 603.6M645 546L648.8 601M584.6 510L588 512" style="fill:none"/>
<path class="t" d="M629 475.5L640.5 482.5M630.6 474.6L694.7 520.6M600.2 558.4V520M580.9 544.5C590 551 605 556 620 557C630 557.5 637 557 641.5 555.8M580.4 529.3V584M588.4 524L596 520L605.5 523.5V541.6L596 546L588.4 541.5Z M596 520V527L588.4 524M596 527L605.5 523.5"/>
<path d="M676.4 503.1L691.2 495.9L708.6 504.1L709.8 501.5L711.5 506.5L714.7 509.2L701.4 520.4H696.3L695.3 516.3Z" fill="#fff" stroke="#000" stroke-width="2" stroke-linejoin="round"/>
<path d="M690.2 481.6V494.9M691.8 481.6V494.9M690.2 481.6L668.8 498M630 476.5L675.9 503M696.3 521.4L700.4 571.4M700.4 520.8L703.5 570" fill="none" stroke="#000" stroke-width="0.7"/>
<ellipse class="q" cx="636.4" cy="510.8" rx="9" ry="5.7"/>
<ellipse class="t" cx="636.4" cy="510.5" rx="7" ry="4.2"/>
<g stroke="#666" stroke-width="1.6" stroke-linecap="round">
<path d="M593 502L601 498M598 506L606 501.5M606 510L614 505.5M608 519L618 513M614 523L624 517.5M620 526.5L630 521M626 530L634 525.5M634 533L646 526.5M650 520L660 515M656 523L668 516.5M652 506L662 500.5M626 495L632 492M636 498L641 495"/>
</g>
<path class="t" d="M608 486L624 478L629 481L613 489Z"/>
<path class="q" d="M653 496L666 503.5L672 505L666 508L655 501.5Z"/>
<path class="q" d="M663 532.5L674 526M661.5 535.5Q662 530 664.5 530.5Q666 531.5 665 534Z"/>
<path class="q" d="M596 491.5L607 485.5L608 488L597 494Z"/>
</g>
<!-- small parts left of 7 -->
<g id="p7s" class="q">
<use href="#scr" x="506.6" y="468.5" fill="#fff" stroke="#000" stroke-width="1.7" stroke-linejoin="round"/><path d="M506.6 472.7V476.5" stroke="#888" stroke-width="0.8"/>
<use href="#scr" x="597.3" y="473.5" fill="#fff" stroke="#000" stroke-width="1.7" stroke-linejoin="round"/><path d="M597.3 477.7V481.5" stroke="#888" stroke-width="0.8"/>
<use href="#scr" x="715.2" y="555" fill="#fff" stroke="#000" stroke-width="1.7" stroke-linejoin="round"/><path d="M715.2 559.2V563" stroke="#888" stroke-width="0.8"/>
<path d="M505.8 485L508 482.6L514.4 486.5L512.7 488V497L507 499.3L500.9 496L505.8 493.4Z" style="stroke-width:1.8"/>
<path d="M507.5 484V494.5L505.8 493.4M507.5 494.5L511 496.5" style="stroke-width:0.7;fill:none"/>
<path d="M522.3 502V512.5M527.3 499V509.5M537.6 516V526.5M545 512V522.5" style="stroke-width:3;stroke-linecap:round"/>
<path d="M522.3 502V510M527.3 499V507M537.6 516V524M545 512V520" style="stroke:#777;stroke-width:0.8"/>
<ellipse cx="522.3" cy="500.5" rx="2.2" ry="1.6" style="stroke-width:1.6"/><ellipse cx="527.3" cy="497.5" rx="2.2" ry="1.6" style="stroke-width:1.6"/>
<ellipse cx="537.6" cy="514.5" rx="2.2" ry="1.6" style="stroke-width:1.6"/><ellipse cx="545" cy="510.5" rx="2.2" ry="1.6" style="stroke-width:1.6"/>
<path d="M510.5 523.5L517 520L521 522L527 519L533.5 522.5V530L524 536L517 539.5L510.5 536Z" style="stroke-width:1.7"/>
<path d="M510.5 523.5L517 527L527 521.5M517 527V539.5M523 530V536" style="stroke-width:0.7"/>
<circle cx="530" cy="527.5" r="2.5" style="stroke-width:1"/>
<path d="M499 536.3L508 541.3" style="stroke-width:4.4"/>
<path d="M499 536.3L508 541.3" style="stroke:#fff;stroke-width:1.8"/>
<path d="M535.5 540L546 534.5L549.5 537L549 541L540 545.5L536 544Z" style="stroke-width:1.5"/>
</g>
<!-- ===== base 1 ===== -->
<g id="p1">
<path class="p" d="M665 625.5L748.2 673.2L749.3 715.9L712 736.7L691.2 733.4L688 721.4C680 724 676 726.5 672.6 728C660 734 648 737.5 637.6 738.9C630 740.5 622 741.2 615.7 741.1C606 740.8 600 739 593.8 736.7C585 733 580 730 576.3 725.8C572 720 570.5 713 570.8 706L571.9 690.7C574 684.5 578 680.5 582.8 677.6C595 669 605 662 615.7 655.7L652.9 630.5L657.3 629.4Z"/>
<path class="t" d="M574 693C580 703 600 712 620 716.5C630 719 640 720.5 648.5 721.2L732.8 678.7M574.5 697C580 707 600 716 620 720C630 722 640 723.5 648.5 724.2L736.5 679.5M657.3 629.4L732.8 672.5V678.7M732.8 672.5L748.2 673.2M748.2 677L712 697.5V736.7M688 721.4L712 710"/>
<path class="t" d="M573 690.5C578 684 586 678.5 592 675L655 634L658.5 632.5"/>
<!-- big cavity -->
<path d="M592 678C596 666 612 659 638 658.8C660 659.5 674 666 681.5 677L668 684L653.9 697.3L605.2 696.1C598 692 593 686 592 678Z" fill="#fff" stroke="#000" stroke-width="0.9"/>
<path class="t" d="M602 690C608 684 620 681 635 681.5C648 682 660 686 666 690"/>
<ellipse class="t" cx="632.5" cy="695.5" rx="14" ry="5"/>
<ellipse class="t" cx="632.5" cy="696" rx="9.5" ry="3.3"/>
<path d="M605.2 696.1L653.9 697.3L681.5 677.5V696L654 715.5L606 714.5Z" fill="#fff" stroke="#000" stroke-width="0.8" stroke-linejoin="round"/>
<path class="t" d="M654 697.3V715.5M635 697V715M647 697V715.3M612 696.3V714.6M608 696V714.5"/>
<circle class="t" cx="622" cy="682" r="1.6"/>
<!-- right compartment posts -->
<path class="q" d="M649.5 640V671.5Q652.3 673 655 671.5V640M657 640V671.5Q660 673 663 671.5V640" style="stroke-width:0.8"/>
<ellipse class="q" cx="656" cy="639" rx="7" ry="3" style="stroke-width:0.8"/>
<ellipse class="t" cx="656" cy="637.5" rx="4" ry="1.8"/>
<path class="q" d="M676.5 653V676Q681.5 678.5 686.5 676V653" style="stroke-width:0.8"/>
<ellipse class="q" cx="681.5" cy="653" rx="5" ry="2.2" style="stroke-width:0.8"/>
<path class="q" d="M715.5 670V683Q720 685 724.5 683V670" style="stroke-width:0.8"/>
<ellipse class="q" cx="720" cy="670" rx="4.5" ry="2" style="stroke-width:0.8"/>
<path class="t" d="M663 655L681 645M640 650V660M644 649V659"/>
<path class="q" d="M591 684V713M597 684V715M580 692V716" style="stroke-width:0.7"/>
<ellipse class="q" cx="594" cy="683.5" rx="3.5" ry="1.5" style="stroke-width:0.7"/>
<ellipse cx="680.3" cy="641.5" rx="4.5" ry="2.6" fill="#ccc" stroke="#000" stroke-width="1"/>
<ellipse cx="701.1" cy="652.4" rx="4.5" ry="2.6" fill="#ccc" stroke="#000" stroke-width="1"/>
<ellipse cx="718.6" cy="662.3" rx="4.5" ry="2.6" fill="#ccc" stroke="#000" stroke-width="1"/>
<g class="t"><circle cx="576.5" cy="689.5" r="1.5"/><circle cx="589" cy="684" r="1.5"/><circle cx="663" cy="630" r="1.3"/><circle cx="740.5" cy="673.5" r="1.5"/><circle cx="701" cy="692.5" r="1.5"/><circle cx="650" cy="718" r="1.5"/><circle cx="611" cy="657" r="1.4"/><circle cx="636" cy="653" r="1.4"/></g>
</g>
<!-- ===== Box A ===== -->
<g id="partsA">
<!-- screws -->
<g class="q">
<use href="#scr" x="927.3" y="213.5" fill="#fff" stroke="#000" stroke-width="1.7" stroke-linejoin="round"/><path d="M927.3 217.7V221.5" stroke="#888" stroke-width="0.8"/>
<use href="#scr" x="971" y="237.5" fill="#fff" stroke="#000" stroke-width="1.7" stroke-linejoin="round"/><path d="M971 241.7V245.5" stroke="#888" stroke-width="0.8"/>
</g>
<!-- cover -->
<path class="p" d="M916.2 235.5L983 272.8C987 275 989.5 278 989 282L986.4 302.3C975 320 960 335 941.4 350.8C930 358 918 364 906.7 368.2C895 372 883 374 872 373.4C862 372.5 855 370 851.2 366.4C845 361 841.5 355 840.8 349.1L840 321.4L841.4 309.7C841.5 303 841.8 299 842.3 296.1C843.5 290 845 285.5 846.9 282.4C850 277 853.5 274.5 857.8 272.3L882.4 255.9Z"/>
<path class="t" d="M884.3 256.5L860 272.5C855 275.5 851 279 849 284C847.5 289 847.3 295 847.3 300.6C847.5 306 848.5 309 850.5 311.6C853.5 316 857.5 319.5 862.4 321.6C869 324.5 877 325.8 885.2 325.7C893 325.5 900 323.5 908 319.8L986.4 277"/>
<path class="t" d="M842.8 309.7C845 316 849 321 853.2 324.3C859 328.5 865 331.5 871.5 332.6C877 333.5 883 333.8 889.7 333.5C896 333 902 331 908 328L987.3 285.5"/>
<ellipse class="t" cx="927.3" cy="243.3" rx="2" ry="1.3"/>
<ellipse class="t" cx="971" cy="268" rx="2" ry="1.3"/>
<text x="0" y="0" transform="translate(886.5 274) rotate(31) skewX(-10)" font-family="Liberation Sans, sans-serif" font-weight="bold" font-style="italic" font-size="23" fill="#fff" stroke="#000" stroke-width="0.8" stroke-linejoin="round">Nice</text>
<!-- housing -->
<path class="p" d="M919.5 378.2L992.4 419.3L997 425L1001.6 533.4L930 567C915 575 904 579 894 580.4C880 581 868 579 858 574C846 568 839 560 836.5 551.6L835.5 545L839.2 480.4C840 473 841.5 469 843.7 465.8C850 457 858 451 865.6 445.8C880 435 893 425 900.3 412.9L905.8 396.5C907 390 909 385 911.2 382.8Z"/>
<path class="q" d="M913 386.5C910 392 909 398 906.5 412.9C903 420 898 428 890 434C880 441 872 446 860 455C850 462 845 470 842.5 480.4C841.5 490 844 496 849 500C858 508 866 512 874.7 514.5C885 517 895 517.5 907.6 517C918 515 928 510 938.6 495L969.6 462.2C975 455 980 448 981.5 440V425L980.6 420.2Z" style="stroke-width:1.1;fill:#fff"/>
<path class="t" d="M915.5 384C912.5 392 911.5 399 909.5 413C906 421 901 429 893 435.5C883 443 875 448 863 457C853 464 848 471 845.5 481C844.8 490 847 495 851.5 498.5C860 505.5 868 509.5 876 511.5C886 514 895 514.5 906.5 514C917 512 926 507 936 493L966.5 460C972 453 977 447 978.5 440V426L976.5 422.5L915.5 384.2"/>
<path class="t" d="M919.5 386V485M919.5 485L872.9 512.4M919.5 485L935 495M992.4 419.3L982 424"/>
<path d="M919.5 485L872.9 512.4M919.5 485L935 495" stroke="#000" stroke-width="2"/>
<path class="t" d="M852 488L856 485.5L858 497L854 499Z"/>
<path class="t" d="M856 501L866 506V512L856 507Z"/>
<circle class="t" cx="844" cy="485.5" r="2.4"/>
<circle class="t" cx="924" cy="395" r="1.8"/>
<circle class="t" cx="968" cy="419" r="1.8"/>
<ellipse cx="854.1" cy="559.8" rx="4.2" ry="6.3" fill="#fff" stroke="#000" stroke-width="1.6"/>
<ellipse cx="855" cy="559.8" rx="2.4" ry="4.4" fill="none" stroke="#000" stroke-width="0.7"/>
<!-- disc 5 -->
<ellipse cx="908.4" cy="656.8" rx="55.3" ry="32.5" fill="#fff" stroke="#000" stroke-width="3"/>
<ellipse class="t" cx="908.4" cy="656" rx="52.5" ry="30"/>
<ellipse cx="908.2" cy="657.7" rx="45.4" ry="26" fill="none" stroke="#000" stroke-width="2.1"/>
<ellipse cx="908.2" cy="658.3" rx="38.3" ry="21.3" fill="none" stroke="#000" stroke-width="1.8"/>
<ellipse class="t" cx="908.2" cy="657.1" rx="15.7" ry="10"/>
<ellipse class="t" cx="908.7" cy="654.6" rx="12.5" ry="7.4"/>
<ellipse class="t" cx="908.5" cy="654" rx="1.6" ry="1.1"/>
<path class="q" d="M930.5 640.5L937 636.5L947.5 640.5L946 644.5L938 646.5Z" style="stroke-width:1.1"/>
<path class="t" d="M883.8 672.7L886.5 665.9L894 669.5Z"/>
<text x="0" y="0" transform="translate(883.5 656.5) rotate(-27)" font-family="Liberation Sans, sans-serif" font-weight="bold" font-size="5.2" fill="#000">◄ TAVOLA</text>
</g>
<!-- ===== Box B ===== -->
<g id="partsB">
<!-- O-rings -->
<ellipse cx="638.7" cy="823.4" rx="54" ry="31.8" fill="none" stroke="#000" stroke-width="2.6"/>
<ellipse cx="638.7" cy="823.6" rx="51.3" ry="29.3" fill="none" stroke="#000" stroke-width="1.3"/>
<ellipse cx="640.8" cy="999.9" rx="54.3" ry="32.4" fill="none" stroke="#000" stroke-width="2.6"/>
<ellipse cx="640.8" cy="1000.1" rx="51.6" ry="29.9" fill="none" stroke="#000" stroke-width="1.3"/>
<!-- arm with ring -->
<path class="p" d="M444.6 1001.3L584.3 915.1C583.5 912 583.7 905 583.7 893.2C583.7 876 609 863.1 641.8 863.1C674.6 863.1 699.8 876 699.8 893.2V925C699.8 944 674.6 956.1 641.8 956.1C630 956.1 618 954 608.9 950.7L474.7 1021.8C470 1026 462 1028.7 452 1028.7C440 1028.7 431 1024 430.5 1017V1011C431 1006 437 1002.5 444.6 1001.3Z"/>
<path class="t" d="M583.7 900C584 917 609 930.5 641.8 930.5C674.6 930.5 699.8 917 699.8 900M584 905C585 922 609 935 641.8 935C674.6 935 699.5 922 699.5 905"/>
<path class="t" d="M592 920L451.5 1004.5M600 925L460 1008M612 934L620 935Q622 942 618 945L478 1017.5"/>
<path class="t" d="M620 935L610 950M584.3 915.1L592 920"/>
<!-- gear ring top -->
<ellipse cx="641.8" cy="893.2" rx="58" ry="30" fill="#fff" stroke="#000" stroke-width="1.5"/>
<ellipse class="t" cx="641.8" cy="893.8" rx="54.5" ry="27.6"/>
<!--GEN:ringB-->
<ellipse cx="642.4" cy="895.8" rx="51.6" ry="29.4" fill="#fff" stroke="#000" stroke-width="1.6"/>
<path d="M590.8 895.1V905.1M591.2 892.2V902.2M592.1 889.4V899.4M593.4 886.6V896.6M595.2 883.9V893.9M597.5 881.3V907.4M600.2 878.9V903.7M603.3 876.6V901.4M606.8 874.5V899.7M610.7 872.6V898.2M614.8 871V897M619.2 869.5V896M623.8 868.4V895.1M628.6 867.5V894.5M633.6 866.8V894.1M638.6 866.5V893.8M643.7 866.4V893.8M648.7 866.6V894M653.7 867.1V894.3M658.6 867.9V894.9M663.3 868.9V895.6M667.8 870.2V896.5M672.1 871.8V897.7M676.1 873.5V899.1M679.8 875.5V900.7M683.1 877.7V902.8M686 880.1V905.7M688.5 882.6V892.6M690.5 885.2V895.2M692.1 888V898M693.2 890.8V900.8M693.9 893.6V903.6" stroke="#222" stroke-width="1.2" fill="none"/>
<path d="M590.9 893.6V903.6M591.6 890.8V900.8M592.7 888V898M594.3 885.2V895.2M596.3 882.6V892.6M598.8 880.1V905.1M601.7 877.7V902.5M605 875.5V900.5M608.7 873.5V898.9M612.7 871.8V897.6M617 870.2V896.4M621.5 868.9V895.5M626.2 867.9V894.8M631.1 867.1V894.3M636.1 866.6V893.9M641.1 866.4V893.8M646.2 866.5V893.9M651.2 866.8V894.1M656.2 867.5V894.6M661 868.4V895.2M665.6 869.5V896M670 871V897.1M674.1 872.6V898.4M678 874.5V899.9M681.5 876.6V901.7M684.6 878.9V904M687.3 881.3V891.3M689.6 883.9V893.9M691.4 886.6V896.6M692.7 889.4V899.4M693.6 892.2V902.2M694 895.1V905.1" stroke="#888" stroke-width="0.7" fill="none"/>
<path d="M687.2 909.2 L685.6 910 L687 910.8 L685.1 911.5 L686.2 912.4 L684.1 913 L685 914 L682.7 914.5 L683.3 915.5 L680.9 915.9 L681.2 916.9 L678.6 917.3 L678.6 918.3 L675.9 918.6 L675.6 919.5 L672.9 919.7 L672.3 920.6 L669.5 920.7 L668.7 921.7 L665.9 921.7 L664.7 922.5 L661.9 922.4 L660.5 923.3 L657.8 923.1 L656.1 923.8 L653.4 923.6 L651.6 924.3 L649 923.9 L646.9 924.5 L644.5 924 L642.2 924.6 L639.9 924 L637.5 924.5 L635.4 923.9 L632.8 924.3 L631 923.6 L628.3 923.8 L626.6 923.1 L623.9 923.3 L622.5 922.4 L619.7 922.5 L618.5 921.7 L615.7 921.7 L614.9 920.7 L612.1 920.6 L611.5 919.7 L608.8 919.5 L608.5 918.6 L605.8 918.3 L605.8 917.3 L603.2 916.9 L603.5 915.9 L601.1 915.5 L601.7 914.5 L599.4 914 L600.3 913 L598.2 912.4 L599.3 911.5 L597.4 910.8 L598.8 910 L597.2 909.2 L598.8 908.4 L597.4 907.6 L599.3 906.9 L598.2 906 L600.3 905.4 L599.4 904.4 L601.7 903.9 L601.1 902.9 L603.5 902.5 L603.2 901.5 L605.8 901.1 L605.8 900.1 L608.5 899.8 L608.8 898.9 L611.5 898.7 L612.1 897.8 L614.9 897.7 L615.7 896.7 L618.5 896.7 L619.7 895.9 L622.5 896 L623.9 895.1 L626.6 895.3 L628.3 894.6 L631 894.8 L632.8 894.1 L635.4 894.5 L637.5 893.9 L639.9 894.4 L642.2 893.8 L644.5 894.4 L646.9 893.9 L649 894.5 L651.6 894.1 L653.4 894.8 L656.1 894.6 L657.8 895.3 L660.5 895.1 L661.9 896 L664.7 895.9 L665.9 896.7 L668.7 896.7 L669.5 897.7 L672.3 897.8 L672.9 898.7 L675.6 898.9 L675.9 899.8 L678.6 900.1 L678.6 901.1 L681.2 901.5 L680.9 902.5 L683.3 902.9 L682.7 903.9 L685 904.4 L684.1 905.4 L686.2 906 L685.1 906.9 L687 907.6 L685.6 908.4Z" fill="#fff" stroke="#000" stroke-width="1.5" stroke-linejoin="round"/>
<!--/GEN:ringB-->
<!-- end disc -->
<path class="t" d="M430.5 1016.5C431 1024 440 1028.7 452 1028.7"/>
<ellipse cx="450.6" cy="1014.5" rx="20" ry="10.2" fill="#fff" stroke="#000" stroke-width="1.6"/>
<ellipse class="t" cx="449.6" cy="1014.5" rx="3.4" ry="1.9"/>
<!-- left arm 104 -->
<path class="p" d="M348.5 922.8L395.9 949.3L396.8 963C390 967 380 970 359.4 972.1L345 1000L332 1025C326 1037 318 1054 315.5 1064C314 1073 318 1081 330.2 1087.5C336 1088.5 342 1088 347 1089C356 1091 361 1095 361.8 1100L362 1113C361 1120 352 1124.5 338.4 1124.5C330 1124.5 322 1121 317.4 1119C305 1111 293 1101 288.2 1093.4C285 1085 285.5 1075 286.4 1064.2C290 1045 296 1030 302.8 1016.8L336.6 960.2C333 954 334 946 334.8 939.2C337 932 342 926 348.5 922.8Z"/>
<path class="t" d="M337 958C345 963 355 966 366 966L395.9 963M337 951C345 956 355 958 366 958L395 952M336.6 960.2C338 965 345 968 352 969M359.4 972.1L326 1030C317 1046 312 1058 313 1068C314 1078 322 1084 330.2 1087.5"/>
<path class="t" d="M353 969L320 1027C312 1042 308 1054 308.5 1066C309 1078 316 1087 326 1091M290 1092C300 1105 312 1112 325 1116"/>
<path class="t" d="M386 955L391 960M389 952.5L393 951"/>
<ellipse class="q" cx="352.5" cy="944.5" rx="4.4" ry="2.6" style="stroke-width:1"/>
<path class="t" d="M315.4 1099.8C315.5 1107 326 1111.7 338.4 1111.7C350 1111.7 361.5 1107 361.6 1099.8"/>
<ellipse cx="338.4" cy="1099.8" rx="23.2" ry="11.8" fill="#fff" stroke="#000" stroke-width="1.5"/>
<ellipse cx="338.4" cy="1099.5" rx="4.3" ry="2.6" fill="#fff" stroke="#000" stroke-width="1.3"/>
<ellipse class="t" cx="338.4" cy="1099.5" rx="2.2" ry="1.3"/>
<!-- pins -->
<path class="q" d="M394.1 979V998Q398.6 1002 403.2 998V979" style="stroke-width:1.5"/>
<ellipse class="q" cx="398.6" cy="979" rx="4.5" ry="2.4" style="stroke-width:1.5"/>
<path class="q" d="M440.5 968V985Q443.8 988.5 447 985V968" style="stroke-width:1.5"/>
<ellipse class="q" cx="443.8" cy="966.6" rx="5" ry="2.5" style="stroke-width:1.5"/>
<path d="M435.6 1042Q437 1039.3 440.5 1039.5Q444.5 1039 445.5 1041.5L445 1042.5Q447.6 1043 447.5 1044.5Q446.5 1046.5 441 1046.3L439.5 1049Q436.5 1048.8 435.6 1046Z" fill="#111" stroke="#000" stroke-width="1.2" stroke-linejoin="round"/><circle cx="442" cy="1042.5" r="0.9" fill="#ccc"/><circle cx="437.5" cy="1046.3" r="0.7" fill="#ccc"/>
<!-- encoder disc 10 -->
<ellipse cx="627.8" cy="1077.7" rx="54" ry="32.5" fill="#fff" stroke="#000" stroke-width="2.3"/>
<!--GEN:enc10-->
<path d="M662.3 1076.6 L675.3 1076.5 L675.3 1078.9 L662.3 1078.8ZM662.1 1080.2 L674.9 1081.5 L674.2 1083.8 L661.5 1082.4ZM660.8 1083.8 L673.1 1086.4 L671.7 1088.6 L659.6 1085.8ZM658.6 1087.1 L669.9 1091 L667.9 1093 L656.8 1089ZM655.4 1090.2 L665.4 1095.2 L662.9 1097 L653.1 1091.9ZM651.4 1092.9 L659.8 1098.8 L656.8 1100.4 L648.6 1094.3ZM646.6 1095.1 L653.3 1101.9 L649.8 1103 L643.5 1096.2ZM641.3 1096.8 L645.9 1104.1 L642.2 1105 L637.9 1097.6ZM635.6 1098 L638 1105.6 L634.1 1106 L632 1098.3ZM629.6 1098.5 L629.8 1106.3 L625.8 1106.3 L626 1098.5ZM623.6 1098.3 L621.5 1106 L617.6 1105.6 L620 1098ZM617.7 1097.6 L613.4 1105 L609.7 1104.1 L614.3 1096.8ZM612.1 1096.2 L605.8 1103 L602.3 1101.9 L609 1095.1ZM607 1094.3 L598.8 1100.4 L595.8 1098.8 L604.2 1092.9ZM602.5 1091.9 L592.7 1097 L590.2 1095.2 L600.2 1090.2ZM598.8 1089 L587.7 1093 L585.7 1091 L597 1087.1ZM596 1085.8 L583.9 1088.6 L582.5 1086.4 L594.8 1083.8ZM594.1 1082.4 L581.4 1083.8 L580.7 1081.5 L593.5 1080.2ZM593.3 1078.8 L580.3 1078.9 L580.3 1076.5 L593.3 1076.6ZM593.5 1075.2 L580.7 1073.9 L581.4 1071.6 L594.1 1073ZM594.8 1071.6 L582.5 1069 L583.9 1066.8 L596 1069.6ZM597 1068.3 L585.7 1064.4 L587.7 1062.4 L598.8 1066.4ZM600.2 1065.2 L590.2 1060.2 L592.7 1058.4 L602.5 1063.5ZM604.2 1062.5 L595.8 1056.6 L598.8 1055 L607 1061.1ZM609 1060.3 L602.3 1053.5 L605.8 1052.4 L612.1 1059.2ZM614.3 1058.6 L609.7 1051.3 L613.4 1050.4 L617.7 1057.8ZM620 1057.4 L617.6 1049.8 L621.5 1049.4 L623.6 1057.1ZM626 1056.9 L625.8 1049.1 L629.8 1049.1 L629.6 1056.9ZM632 1057.1 L634.1 1049.4 L638 1049.8 L635.6 1057.4ZM637.9 1057.8 L642.2 1050.4 L645.9 1051.3 L641.3 1058.6ZM643.5 1059.2 L649.8 1052.4 L653.3 1053.5 L646.6 1060.3ZM648.6 1061.1 L656.8 1055 L659.8 1056.6 L651.4 1062.5ZM661.5 1073 L674.2 1071.6 L674.9 1073.9 L662.1 1075.2Z" fill="#e6e6e6" stroke="#000" stroke-width="0.6"/>
<ellipse cx="610.5" cy="1063.8" rx="1.6" ry="1.1" fill="#ddd" stroke="#000" stroke-width="0.5"/>
<ellipse cx="649.5" cy="1065.5" rx="1.6" ry="1.1" fill="#ddd" stroke="#000" stroke-width="0.5"/>
<ellipse cx="601" cy="1076.8" rx="1.6" ry="1.1" fill="#ddd" stroke="#000" stroke-width="0.5"/>
<ellipse cx="602.7" cy="1082" rx="1.6" ry="1.1" fill="#ddd" stroke="#000" stroke-width="0.5"/>
<ellipse cx="620" cy="1092" rx="1.6" ry="1.1" fill="#ddd" stroke="#000" stroke-width="0.5"/>
<ellipse cx="628.7" cy="1093.3" rx="1.6" ry="1.1" fill="#ddd" stroke="#000" stroke-width="0.5"/>
<ellipse cx="651.2" cy="1087.2" rx="1.6" ry="1.1" fill="#ddd" stroke="#000" stroke-width="0.5"/>
<!--/GEN:enc10-->
<ellipse cx="629.6" cy="1077.2" rx="18.2" ry="10" fill="#fff" stroke="#000" stroke-width="2"/>
</g>
<!-- ===== Box D ===== -->
<g id="partsD">
<path class="p" d="M466.3 771.5L468.8 770L474.8 775.5V791.5L473 792.5L466.3 787Z" style="stroke-width:1.7"/>
<path class="t" d="M468.8 770V786L473 790.5V792.5M466.3 787L468.8 786"/>
<path class="p" d="M500.4 781L503.5 779.2L512.5 782V798L509.5 799.5L500.4 797Z" style="stroke-width:1.7"/>
<path class="t" d="M500.4 781L509.5 783.5L512.5 782M509.5 783.5V799.5"/>
<path class="p" d="M477.5 806.5L480.5 803L485.5 803L488 806.5V810L485 812.8L480.5 812.8L477.5 810Z" style="stroke-width:1.5"/>
<ellipse class="t" cx="482.7" cy="807" rx="3" ry="2"/>
<path class="p" d="M478.5 820V836Q481.5 839.5 484.5 836V820" style="stroke-width:1.6"/>
<ellipse class="q" cx="481.5" cy="819.5" rx="3.1" ry="1.9"/>
<path class="q" d="M477.5 830V837Q481.5 841 485.5 837V830" style="stroke-width:1.3"/>
<path class="p" d="M494 836.5H516Q517.5 839 516 841.5H494" style="stroke-width:1.5"/>
<path class="p" d="M488 835V842.5Q491 844.5 494.5 842.5V835Q491 833 488 835Z" style="stroke-width:1.5"/>
<path class="p" d="M526.5 835.2L530 834L532 835V843.5L528.5 844.5L526.5 843.5Z" style="stroke-width:1.4"/>
<path class="t" d="M528.5 835.5V844.5"/>
<path class="p" d="M469.8 849.5L486 848.1C489 853 492 857 496 859.5C502 862.5 509 864.5 516 865.8L512.5 875.6C505 874 498 872.5 494.3 871.1C486 868 479 864 476.6 861.3C473 858 471 854 469.8 849.5Z" style="stroke-width:1.8"/>
<ellipse class="t" cx="488" cy="859.5" rx="1.3" ry="0.9"/><ellipse class="t" cx="502" cy="866" rx="1.3" ry="0.9"/>
<g fill="#fff" stroke="#000" stroke-width="1.9" stroke-linejoin="round"><use href="#ps" transform="translate(-123.9 -308.9)"/><use href="#ps" transform="translate(-109.4 -300.5)"/></g>
</g>
<!-- ===== Box G ===== -->
<g id="partsG">
<path class="q" d="M873.4 913V968.5Q875.3 971 877.2 968.5V913" style="stroke-width:1.3"/>
<path class="q" d="M872.5 910V914Q875.3 916.5 878.1 914V910" style="stroke-width:1.4"/>
<ellipse class="q" cx="875.3" cy="910" rx="2.8" ry="1.6" style="stroke-width:1.4"/>
<path class="q" d="M949.5 957.5V1012Q951.4 1014.5 953.3 1012V957.5" style="stroke-width:1.3"/>
<path class="q" d="M948.6 954.5V958.5Q951.4 961 954.2 958.5V954.5" style="stroke-width:1.4"/>
<ellipse class="q" cx="951.4" cy="954.5" rx="2.8" ry="1.6" style="stroke-width:1.4"/>
<path class="p" d="M868.1 983.7L877.4 977.7L962.9 1025.8L963.4 1028V1071.8L951.4 1078.4L868.7 1031.3V1028L877.4 1023.1V990.8L868.7 985.9Z" style="stroke-width:2.2"/>
<path class="t" d="M877.4 990.3L960.1 1031.5L963.4 1028M877.4 991.8L960.1 1033"/>
<path class="t" d="M877.4 1023.1L960.1 1068.6L963.4 1071.8"/>
<g class="t"><ellipse cx="900.4" cy="1024.7" rx="2.3" ry="3.5" transform="rotate(-20 900.4 1024.7)"/><ellipse cx="919.6" cy="1036.2" rx="2.3" ry="3.5" transform="rotate(-20 919.6 1036.2)"/><ellipse cx="938.8" cy="1047.2" rx="2.3" ry="3.5" transform="rotate(-20 938.8 1047.2)"/>
<ellipse cx="875.8" cy="982" rx="2" ry="1.2"/><ellipse cx="951.9" cy="1026.4" rx="2" ry="1.2"/><ellipse cx="875.8" cy="1028" rx="2" ry="1.2"/><ellipse cx="951.9" cy="1072.4" rx="2" ry="1.2"/>
<path d="M899 1001L902 1004M918 1011.5L921 1014.5M937 1022.5L940 1025"/></g>
<g><path class="p" d="M870.8 1046V1049.5Q874.7 1053 878.6 1049.5V1046" style="stroke-width:1.6"/><ellipse class="p" cx="874.7" cy="1046" rx="3.9" ry="2.3" style="stroke-width:1.6"/>
<path class="p" d="M947.5 1089.8V1093.3Q951.4 1096.8 955.3 1093.3V1089.8" style="stroke-width:1.6"/><ellipse class="p" cx="951.4" cy="1089.8" rx="3.9" ry="2.3" style="stroke-width:1.6"/></g>
</g>
<!-- ===== washers 31 ===== -->
<g id="p31">
<g id="w31">
<path d="M910.1 811.3A12.2 7.4 0 0 1 934.5 811.3V815.3A12.2 7.4 0 0 1 910.1 815.3Z" fill="#fff"/>
<path d="M910.1 811.3A12.2 7.4 0 0 0 934.5 811.3V815.3A12.2 7.4 0 0 1 910.1 815.3Z" fill="#b0b0b0"/>
<path d="M910.1 811.3A12.2 7.4 0 0 0 934.5 811.3" fill="none" stroke="#000" stroke-width="0.9"/>
<path d="M910.1 811.3A12.2 7.4 0 0 1 934.5 811.3V815.3A12.2 7.4 0 0 1 910.1 815.3Z" fill="none" stroke="#000" stroke-width="2.3" stroke-linejoin="round"/>
<ellipse cx="922.3" cy="812.2" rx="7.4" ry="4.4" fill="#fff" stroke="#000" stroke-width="1"/>
<path d="M915.5 811.2Q922.3 806.8 929.1 811.2" fill="none" stroke="#999" stroke-width="1"/>
</g>
<use href="#w31" transform="translate(21.3 12.6)"/>
<use href="#w31" transform="translate(43.4 25.5)"/>
</g>
<!-- ===== bottom screws ===== -->
<g id="pbot" fill="#fff" stroke="#000" stroke-width="1.9" stroke-linejoin="round">
<path d="M630 1156V1161Q632.2 1163.5 634.4 1161V1156"/>
<path d="M628 1152.5Q628 1150.8 632.2 1150.8Q636.4 1150.8 636.4 1152.5V1155Q632.2 1158 628 1155Z"/>
<path d="M628.3 1187V1191.5Q632.4 1194.5 636.5 1191.5V1187L632.4 1185Z"/>
<path d="M628.3 1187L632.4 1189L636.5 1187M632.4 1189V1193.5" stroke-width="0.6"/>
<path id="ps" d="M609.1 1184Q609.1 1181 610.5 1181Q611.9 1181 611.9 1184V1186.3Q614.4 1187.3 614.4 1189.4Q614.4 1192 610.5 1192Q606.6 1192 606.6 1189.4Q606.6 1187.3 609.1 1186.3Z"/>
<use href="#ps" transform="translate(39 0)"/>
<use href="#ps" transform="translate(-7.8 18.1)"/>
<use href="#ps" transform="translate(7.8 27.2)"/>
<use href="#ps" transform="translate(39.8 23)"/>
</g>
<!-- ===== cable 26 ===== -->
<g id="p26">
<path d="M641.3 113.5L654.8 119L667.6 317L659 319.5Z" fill="#d9d9d9" stroke="#000" stroke-width="1.8" stroke-linejoin="round"/>
<path d="M645 116L660.5 318.5M648 117L662.5 318M651 118L664.5 317.5" fill="none" stroke="#555" stroke-width="0.8"/>
<path d="M653.8 118.5L666.8 316" fill="none" stroke="#000" stroke-width="2.6"/>
<path class="p" d="M628.5 99.6L632.3 96.6L654.5 109.4L654.8 117.4L652.8 118.5L641.1 113L629.3 106.4Z"/>
<path class="t" d="M629.3 101.5L652.5 114V118M631 100.3L652 112"/>
<path d="M667 309Q675 312 676 320L678.5 340L676 339Q673 333 674 322" fill="none" stroke="#000" stroke-width="1.8" stroke-linejoin="round"/>
<path class="p" d="M655 320L658 318.9L662.3 321V333.5L659.5 335L655.3 332.7Z" style="stroke-width:1.8"/>
<path class="p" d="M662.8 325.5L666 323.8L670.5 326V337.5L667 339L663.3 336.8Z" style="stroke-width:1.8"/>
</g>
<!-- ===== cable 27 ===== -->
<g id="p27">
<path d="M309 305.5C318 306 325 307 335 311C350 318 360 325 375 329C390 333 400 334 410 340C417 344 421 348 425.5 350.5" fill="none" stroke="#000" stroke-width="2.8" stroke-linecap="round"/>
<path d="M309 305.5C318 306 325 307 335 311C350 318 360 325 375 329C390 333 400 334 410 340C417 344 421 348 425.5 350.5" fill="none" stroke="#fff" stroke-width="0.5" stroke-linecap="round"/>
<path class="q" d="M300 300.5Q301 298.5 304 299.5L310 303Q312 306 309 307L303 304Q300 303 300 300.5Z"/>
</g>
</g>
<g id="callouts">
<circle cx="743.1" cy="452.6" r="26.8" fill="none" stroke="#d21f2c" stroke-width="3"/>
<circle class="c" cx="356" cy="174.5" r="16.5"/><text class="n" x="356" y="183.7">32</text>
<circle class="c" cx="237.4" cy="268" r="16.6"/><text class="n" x="237.4" y="277.2">27</text>
<circle class="c" cx="708.1" cy="153.6" r="16.6"/><text class="n" x="708.1" y="162.8">26</text>
<circle class="c" cx="545.2" cy="351.3" r="16.8"/><text class="n" x="545" y="361.2">30</text>
<circle class="c" cx="742.6" cy="452.6" r="17.2"/><text class="n" x="742.6" y="461.8">7</text>
<circle class="c" cx="128.4" cy="466" r="17"/><text class="n" x="128.4" y="475.2">12</text>
<circle class="c" cx="204.2" cy="617.6" r="16.5"/><text class="n" x="204.2" y="626.8">43</text>
<circle class="c" cx="295.4" cy="606" r="16.6"/><text class="n" x="295.4" y="615.2">38</text>
<circle class="c" cx="759.8" cy="622.2" r="16.8"/><text class="n" x="759.8" y="631.4">1</text>
<circle class="c" cx="980.7" cy="598.2" r="16.8"/><text class="n" x="980.7" y="607.4">5</text>
<circle class="c" cx="852.5" cy="811.7" r="16.5"/><text class="n" x="852.5" y="820.9">31</text>
<circle class="c" cx="421" cy="827.1" r="16.8"/><text class="n" x="421" y="836.3">46</text>
<path class="c" d="M422.4 940.5C422.4 929.2 429.0 923.9 443.0 923.9C457.0 923.9 463.6 929.2 463.6 940.5C463.6 951.8 457.0 957.1 443.0 957.1C429.0 957.1 422.4 951.8 422.4 940.5Z"/><text class="n" x="443" y="949.7">104</text>
<path class="c" d="M94.0 1004.8C94.0 993.7 100.7 988.5 114.8 988.5C128.9 988.5 135.6 993.7 135.6 1004.8C135.6 1015.9 128.9 1021.1 114.8 1021.1C100.7 1021.1 94.0 1015.9 94.0 1004.8Z"/><text class="n" x="114.4" y="1013.8">120</text>
<circle class="c" cx="516.9" cy="1080.3" r="16.6"/><text class="n" x="516.9" y="1089.5">10</text>
</g>
</svg>
</body></html>
